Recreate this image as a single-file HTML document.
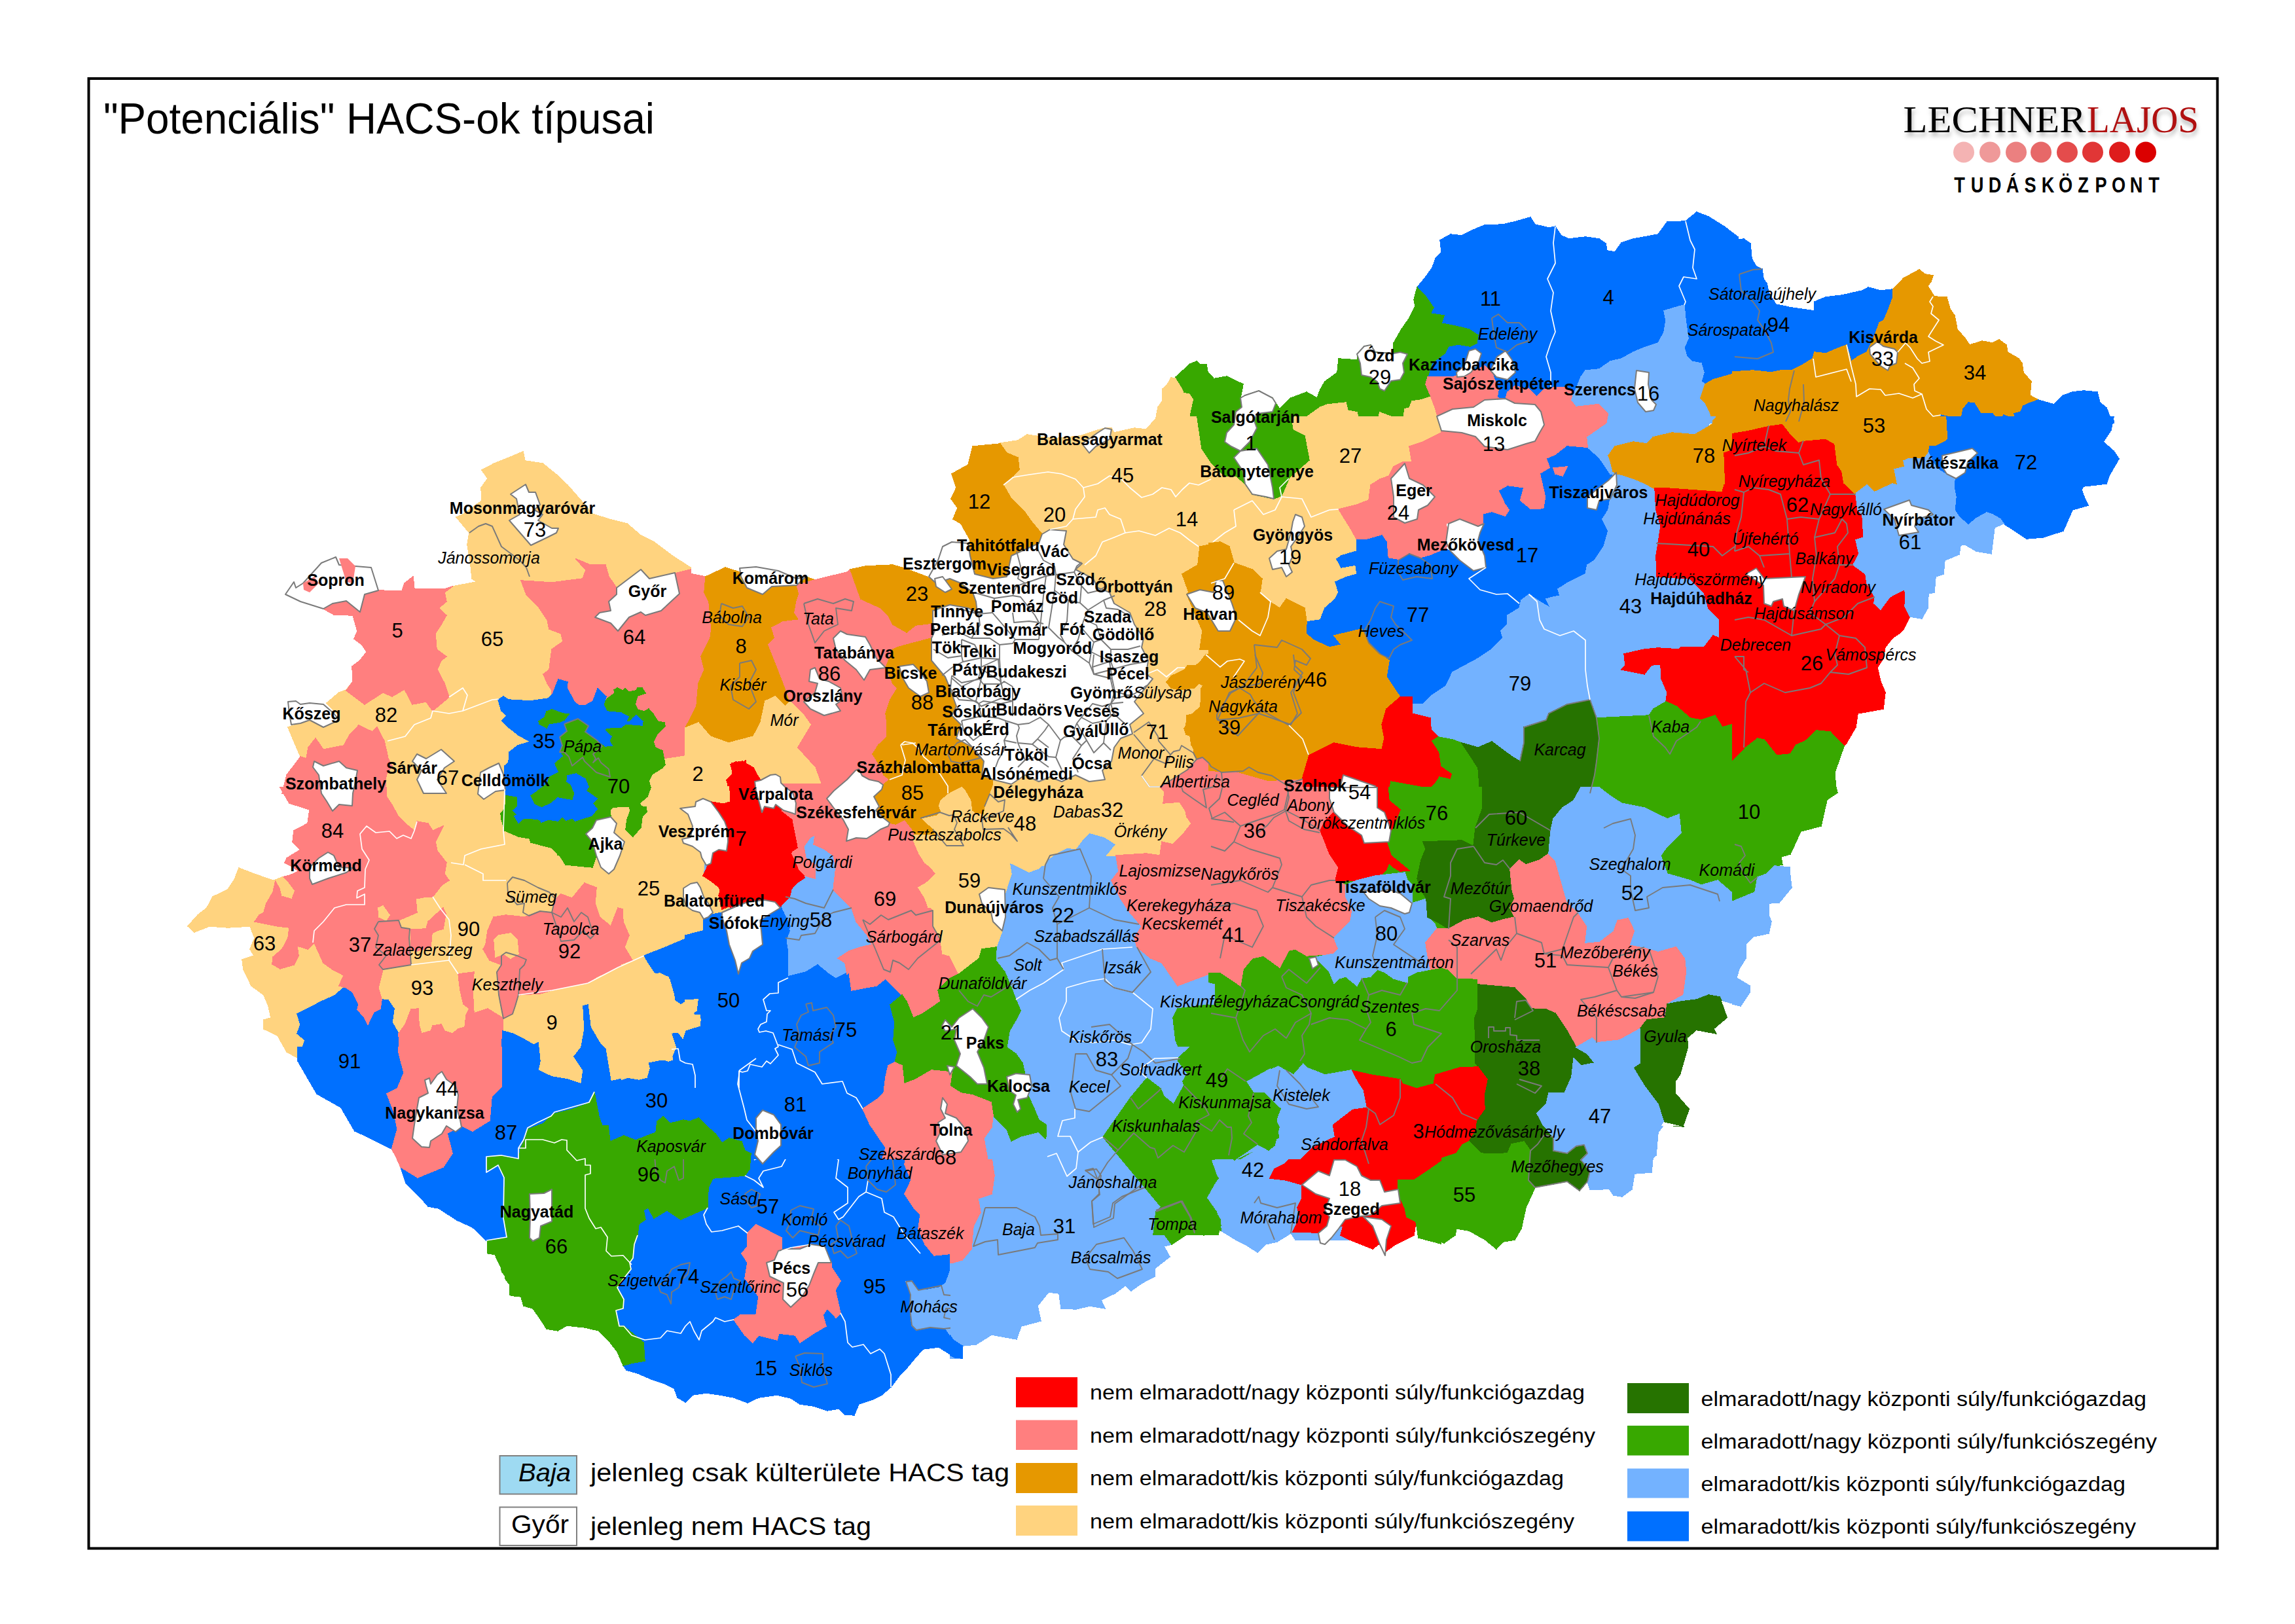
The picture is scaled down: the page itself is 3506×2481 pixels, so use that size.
<!DOCTYPE html>
<html><head><meta charset="utf-8"><title>HACS</title>
<style>
html,body{margin:0;padding:0;background:#fff;}
svg{display:block;font-family:"Liberation Sans",sans-serif;}
.w{fill:#fff;stroke:#7a7a7a;stroke-width:2;stroke-linejoin:round}
.g{fill:none;stroke:#7a7a7a;stroke-width:1.9;stroke-linejoin:round}
.wl{fill:none;stroke:#fff;stroke-width:1.7;stroke-linejoin:round}
.n{font-size:31px;fill:#000}
.b{font-size:25px;font-weight:bold;fill:#000}
.i{font-size:25px;font-style:italic;fill:#000}
.lg{font-size:31px;fill:#000}
.lg2{font-size:39px;fill:#000}
</style></head><body>
<svg width="3506" height="2481" viewBox="0 0 3506 2481">
<rect x="0" y="0" width="3506" height="2481" fill="#fff"/>
<defs><clipPath id="c0"><rect x="0" y="1771" width="1452" height="710"/></clipPath><clipPath id="c1"><rect x="0" y="1771" width="1452" height="710"/></clipPath><clipPath id="c2"><rect x="0" y="1771" width="1452" height="710"/></clipPath><clipPath id="c3"><rect x="1451" y="1771" width="751" height="710"/></clipPath><clipPath id="c4"><rect x="2202" y="1720" width="798" height="761"/></clipPath></defs>
<g stroke-width="1.5" stroke-linejoin="round" shape-rendering="crispEdges"><polygon fill="#ffd37f" stroke="#ffd37f" points="1764,649 1769,622 1776,612 1776,594 1783,588 1789,577 1796,578 1807,594 1818,601 1824,610 1820,627 1816,647 1831,654 1842,657 1842,660 1764,660"/>
<polygon fill="#38a800" stroke="#38a800" points="1796,576 1807,566 1818,556 1828,552 1833,557 1843,557 1845,568 1853,577 1853,660 1842,660 1842,657 1831,654 1816,647 1820,627 1824,610 1818,601 1809,599 1807,594"/>
<polygon fill="#0070ff" stroke="#0070ff" points="2165,439 2178,423 2188,409 2193,395 2202,385 2200,367 2216,358 2233,360 2251,351 2268,344 2296,343 2317,338 2338,332 2345,343 2366,348 2376,346 2385,360 2397,365 2422,362 2443,365 2453,372 2455,383 2467,385 2477,371 2495,365 2512,362 2533,358 2547,339 2575,338 2592,324 2610,331 2634,346 2655,362 2655,569 2617,580 2605,587 2599,583 2603,569 2599,555 2584,552 2577,545 2573,531 2579,517 2575,489 2573,466 2558,470 2542,475 2545,489 2542,508 2533,524 2512,531 2495,538 2477,548 2460,552 2443,564 2422,566 2415,576 2408,594 2404,601 2394,592 2373,592 2359,595 2348,606 2335,594 2314,590 2303,599 2300,609 2287,608 2289,595 2286,587 2279,569 2268,559 2258,564 2240,569 2219,576 2199,576 2181,576 2185,562 2188,554 2207,540 2213,529 2228,526 2246,529 2256,524 2258,512 2244,503 2223,498 2202,494 2206,482 2185,479 2190,470 2178,453"/>
<polygon fill="#38a800" stroke="#38a800" points="2165,439 2178,453 2190,470 2185,479 2206,482 2202,494 2223,498 2244,503 2258,512 2256,524 2246,529 2228,526 2213,529 2207,540 2188,554 2185,562 2181,576 2178,587 2186,606 2171,611 2157,613 2153,623 2146,625 2143,646 2132,639 2108,630 2104,644 2077,646 2073,630 2059,627 2056,615 2028,618 2012,608 2017,595 2024,583 2043,569 2045,548 2073,550 2075,541 2084,529 2094,527 2101,538 2129,540 2129,524 2141,503 2153,486 2162,468 2160,458"/>
<polygon fill="#38a800" stroke="#38a800" points="1847,580 1874,575 1899,587 1895,608 1902,604 1923,597 1944,608 1949,616 1955,625 1972,608 1996,599 2012,608 2028,618 2017,622 2003,632 1986,644 1972,649 1847,649"/>
<polygon fill="#ffd37f" stroke="#ffd37f" points="1972,649 1986,644 2003,632 2017,622 2028,618 2056,615 2059,627 2073,630 2077,646 2104,644 2108,630 2132,639 2143,646 2146,625 2153,623 2157,613 2171,611 2186,606 2193,625 2199,646 2199,649"/>
<polygon fill="#ff7f7f" stroke="#ff7f7f" points="2178,587 2181,576 2199,576 2219,576 2240,569 2258,564 2268,559 2279,569 2286,587 2289,595 2287,608 2300,609 2303,599 2314,590 2335,594 2348,606 2359,595 2373,592 2394,592 2404,601 2401,611 2408,620 2443,616 2458,632 2457,646 2199,646 2193,625 2186,606"/>
<polygon fill="#73b2ff" stroke="#73b2ff" points="2404,601 2408,594 2415,576 2422,566 2443,564 2460,552 2477,548 2495,538 2512,531 2533,524 2542,508 2545,489 2542,475 2558,470 2573,466 2575,489 2579,517 2573,531 2577,545 2584,552 2599,555 2603,569 2599,583 2605,587 2598,608 2605,615 2612,629 2617,646 2457,646 2458,632 2443,616 2408,620 2401,611"/>
<polygon fill="#e69800" stroke="#e69800" points="2605,587 2617,580 2655,569 2655,646 2617,646 2612,629 2605,615 2598,608"/>
<polygon fill="#0070ff" stroke="#0070ff" points="2647,367 2664,365 2674,372 2676,395 2683,407 2692,411 2694,426 2699,433 2702,447 2713,465 2737,470 2772,475 2772,461 2789,454 2814,451 2845,444 2854,439 2873,444 2891,442 2892,454 2884,475 2878,489 2871,493 2866,507 2859,524 2852,538 2838,545 2828,552 2821,527 2803,534 2789,540 2772,538 2769,548 2751,559 2737,566 2720,566 2706,569 2678,566 2647,568"/>
<polygon fill="#e69800" stroke="#e69800" points="2892,442 2908,425 2932,412 2941,419 2953,421 2950,430 2945,437 2955,453 2974,454 2979,472 2986,482 2990,503 3002,517 3009,527 3028,521 3044,524 3054,519 3065,527 3067,538 3084,548 3089,555 3091,569 3103,583 3101,604 3114,611 3100,616 3091,620 3087,629 3077,632 3079,641 3061,634 3053,643 3044,632 3026,632 3016,616 3007,615 2999,625 2997,636 2986,639 2965,634 2967,645 2647,645 2647,568 2678,566 2706,569 2720,566 2737,566 2751,559 2769,548 2772,538 2789,540 2803,534 2821,527 2828,552 2838,545 2852,538 2859,524 2866,507 2871,493 2878,489 2884,475 2892,454"/>
<polygon fill="#0070ff" stroke="#0070ff" points="2965,634 2986,639 2997,636 2999,625 3007,615 3016,616 3026,632 3044,632 3053,643 3061,634 3079,641 3077,632 3087,629 3091,620 3100,616 3114,611 3138,618 3152,604 3166,599 3183,597 3204,599 3208,615 3218,623 3223,636 3229,643 3229,646 2965,646"/>
<polygon fill="#ffd37f" stroke="#ffd37f" points="799,690 802,704 829,708 850,725 867,741 888,765 905,785 930,793 958,800 979,818 999,828 1027,849 1055,867 1055,1212 431,1212 435,1206 438,1184 454,1163 459,1156 450,1135 440,1111 459,1105 473,1100 494,1111 518,1100 515,1090 499,1074 518,1058 529,1054 539,1041 538,1018 550,1009 560,996 553,985 541,976 546,964 539,940 510,939 494,930 508,922 529,918 550,935 557,908 578,902 614,903 618,891 631,881 633,900 679,900 691,896 728,889 721,884 719,863 714,832 717,814 697,790 707,786 736,765 735,745 745,731 736,718 755,708 780,698"/>
<polygon fill="#ff7f7f" stroke="#ff7f7f" points="796,887 843,890 890,884 895,871 880,854 902,863 925,863 930,881 942,898 1055,870 1055,1152 1031,1156 982,1163 843,1093 843,1055 836,1044 830,1030 839,1023 843,992 860,980 857,968 839,961 836,947 822,926 804,908"/>
<polygon fill="#ff7f7f" stroke="#ff7f7f" points="494,930 508,922 529,918 550,935 557,908 578,902 614,903 618,891 631,881 633,900 679,900 691,896 679,905 682,919 670,929 682,940 674,954 665,968 667,992 682,1003 674,1009 668,1023 679,1044 686,1065 661,1086 651,1072 630,1076 618,1053 599,1064 585,1058 557,1076 529,1055 539,1041 538,1018 550,1009 560,996 553,985 541,976 546,964 539,940 510,939"/>
<polygon fill="#ff7f7f" stroke="#ff7f7f" points="459,1156 468,1159 471,1142 482,1128 494,1145 525,1139 534,1123 548,1108 569,1118 576,1111 587,1132 590,1145 593,1159 599,1170 590,1184 588,1212 431,1212 438,1184 454,1163"/>
<polygon fill="#ffd37f" stroke="#ffd37f" points="1528,677 1555,673 1569,664 1608,670 1650,666 1677,657 1688,654 1698,654 1702,661 1733,654 1751,656 1768,637 1855,637 1855,1212 1496,1212 1496,1163 1538,884 1573,797 1545,762 1533,741 1548,727 1557,717 1555,699 1538,692"/>
<polygon fill="#e69800" stroke="#e69800" points="1486,682 1528,678 1538,692 1555,699 1557,717 1548,727 1533,741 1545,762 1566,783 1576,797 1592,816 1587,830 1545,849 1538,881 1517,884 1489,877 1481,849 1482,825 1468,800 1456,793 1463,776 1453,762 1461,745 1454,724 1479,710"/>
<polygon fill="#ff7f7f" stroke="#ff7f7f" points="1047,875 1078,881 1088,954 1078,1023 1067,1104 1047,1111"/>
<polygon fill="#e69800" stroke="#e69800" points="1078,881 1108,867 1130,874 1141,898 1165,908 1179,896 1217,894 1231,881 1245,886 1221,907 1217,919 1214,936 1221,947 1196,950 1179,959 1184,975 1174,985 1188,1020 1200,1051 1207,1072 1200,1079 1184,1064 1169,1071 1162,1104 1151,1125 1113,1135 1085,1125 1067,1104 1047,1112 1064,1079 1067,1044 1076,1023 1071,1003 1085,975 1087,961 1083,919 1076,905"/>
<polygon fill="#ff7f7f" stroke="#ff7f7f" points="1217,894 1245,886 1294,874 1299,870 1304,884 1315,915 1346,929 1357,940 1364,954 1385,966 1399,955 1425,952 1428,964 1423,975 1395,982 1385,985 1371,989 1364,992 1353,1020 1364,1044 1371,1051 1360,1069 1353,1090 1357,1118 1339,1142 1334,1156 1343,1170 1336,1184 1350,1212 1259,1212 1245,1173 1217,1142 1238,1107 1228,1093 1207,1072 1200,1051 1188,1020 1174,985 1184,975 1179,959 1196,950 1221,947 1214,936 1217,919 1221,907"/>
<polygon fill="#e69800" stroke="#e69800" points="1299,870 1322,865 1364,863 1381,868 1416,881 1430,891 1451,884 1468,891 1486,905 1491,919 1493,936 1479,929 1451,924 1425,933 1425,952 1399,955 1385,966 1364,954 1357,940 1346,929 1315,915 1304,884"/>
<polygon fill="#e69800" stroke="#e69800" points="1371,989 1385,985 1423,975 1423,1009 1444,1034 1451,1051 1461,1079 1454,1093 1468,1107 1461,1128 1486,1142 1503,1163 1500,1184 1514,1191 1517,1212 1350,1212 1336,1184 1343,1170 1334,1156 1339,1142 1357,1118 1353,1090 1360,1069 1371,1051 1364,1044 1353,1020 1364,992"/>
<polygon fill="#ffd37f" stroke="#ffd37f" points="1047,1112 1067,1104 1085,1125 1113,1135 1151,1125 1162,1104 1169,1071 1184,1064 1200,1079 1207,1072 1228,1093 1238,1107 1217,1142 1245,1173 1259,1212 1047,1212"/>
<polygon fill="#ff0000" stroke="#ff0000" points="1118,1166 1134,1163 1151,1173 1162,1194 1158,1212 1113,1212 1111,1194 1120,1184"/>
<polygon fill="#e69800" stroke="#e69800" points="1842,1000 1833,1012 1826,1017 1814,1017 1810,1023 1789,1033 1782,1042 1789,1051 1802,1054 1824,1051 1831,1044 1838,1047 1835,1052 1834,1080 1821,1091 1813,1093 1812,1108 1809,1113 1812,1122 1818,1124 1820,1138 1824,1145 1823,1150 1828,1160 1837,1157 1847,1166 1850,1171 1866,1180 1866,1000"/>
<polygon fill="#ff7f7f" stroke="#ff7f7f" points="1828,1160 1837,1157 1847,1166 1850,1171 1866,1180 1866,1286 1812,1286 1814,1275 1821,1263 1816,1249 1810,1237 1802,1225 1777,1227 1779,1209 1772,1202 1795,1188 1814,1176"/>
<polygon fill="#e69800" stroke="#e69800" points="1833,835 1868,828 1886,859 1928,884 1924,908 1942,925 1938,950 1914,971 1889,957 1868,978 1851,992 1833,992 1837,964 1813,908 1816,905 1806,877 1830,863"/>
<polygon fill="#ffd37f" stroke="#ffd37f" points="1847,637 2199,637 2202,661 2174,675 2153,682 2157,706 2143,706 2129,713 2122,727 2108,732 2094,741 2091,764 2073,771 2045,778 2063,807 2073,825 2073,842 2059,846 2049,849 2042,854 2049,867 2071,863 2073,877 2056,882 2040,889 2045,905 2040,915 2024,929 2017,947 1996,950 1993,929 1965,915 1955,929 1939,919 1925,905 1928,884 1913,870 1885,860 1878,835 1864,828 1847,830"/>
<polygon fill="#38a800" stroke="#38a800" points="1829,637 1972,637 1975,657 1993,666 2000,703 1970,729 1958,757 1946,762 1913,755 1902,739 1888,727 1871,727 1850,706 1836,685"/>
<polygon fill="#ff7f7f" stroke="#ff7f7f" points="2153,682 2174,675 2202,661 2199,637 2458,637 2455,647 2425,668 2427,685 2394,682 2376,696 2364,701 2369,715 2354,724 2362,759 2359,778 2338,779 2321,765 2326,746 2303,743 2291,750 2300,769 2307,779 2300,790 2279,783 2267,786 2267,800 2258,804 2230,793 2209,800 2213,821 2209,839 2185,849 2171,853 2153,846 2139,856 2120,853 2118,828 2111,818 2087,825 2073,825 2063,807 2045,778 2073,771 2091,764 2094,741 2108,732 2122,727 2129,713 2143,706 2157,706"/>
<polygon fill="#0070ff" stroke="#0070ff" points="2073,825 2087,825 2111,818 2118,828 2120,853 2139,856 2153,846 2171,853 2185,849 2209,839 2216,842 2230,856 2251,872 2270,867 2268,849 2258,825 2267,800 2267,786 2279,783 2300,790 2307,779 2300,769 2291,750 2303,743 2326,746 2321,765 2338,779 2359,778 2362,759 2354,724 2369,715 2364,701 2376,696 2394,682 2427,685 2443,699 2460,704 2464,720 2470,724 2469,741 2460,762 2457,779 2448,793 2457,811 2450,835 2436,856 2425,863 2422,877 2394,891 2380,900 2383,910 2373,912 2362,915 2369,929 2352,919 2336,908 2324,917 2321,929 2303,940 2303,954 2293,964 2296,975 2279,992 2258,1006 2219,1027 2209,1048 2188,1062 2174,1076 2157,1076 2157,1065 2139,1065 2118,1034 2122,1009 2108,999 2091,982 2080,961 2038,971 2049,985 2031,989 2007,978 1995,968 1996,950 2017,947 2024,929 2040,915 2045,905 2040,889 2056,882 2073,877 2071,863 2049,867 2042,854 2049,849 2059,846 2073,842"/>
<polygon fill="#ff7f7f" stroke="#ff7f7f" points="2373,715 2394,713 2387,727 2376,724"/>
<polygon fill="#73b2ff" stroke="#73b2ff" points="2425,668 2455,647 2457,637 2620,637 2606,654 2589,664 2554,661 2525,668 2516,678 2495,675 2467,682 2457,696 2474,727 2460,724 2443,699 2427,685"/>
<polygon fill="#73b2ff" stroke="#73b2ff" points="2470,724 2477,725 2495,731 2512,738 2530,748 2533,755 2530,779 2537,804 2533,830 2530,849 2531,881 2582,884 2603,905 2610,929 2627,947 2627,975 2617,971 2603,989 2568,989 2565,992 2533,990 2512,992 2481,999 2483,1016 2477,1023 2512,1030 2523,1016 2537,1015 2538,1037 2547,1058 2545,1072 2526,1083 2519,1093 2439,1097 2429,1069 2394,1076 2366,1090 2362,1100 2328,1111 2328,1135 2322,1163 2310,1156 2279,1133 2258,1142 2233,1135 2219,1130 2197,1126 2186,1114 2185,1097 2157,1090 2157,1076 2174,1076 2188,1062 2209,1048 2219,1027 2258,1006 2279,992 2296,975 2293,964 2303,954 2303,940 2321,929 2324,917 2336,908 2352,919 2369,929 2362,915 2373,912 2383,910 2380,900 2394,891 2422,877 2425,863 2436,856 2450,835 2457,811 2448,793 2457,779 2460,762 2469,741"/>
<polygon fill="#e69800" stroke="#e69800" points="2457,696 2467,682 2495,675 2516,678 2525,668 2554,661 2589,664 2606,654 2617,647 2655,637 2655,685 2634,692 2636,741 2631,752 2547,748 2530,748 2512,738 2495,731 2477,725 2470,724 2464,720 2460,704"/>
<polygon fill="#ff0000" stroke="#ff0000" points="2528,746 2547,746 2631,752 2634,741 2655,738 2655,1104 2631,1111 2620,1093 2599,1100 2582,1097 2561,1079 2545,1072 2547,1058 2538,1037 2537,1015 2523,1016 2512,1030 2477,1023 2483,1016 2481,999 2512,992 2533,990 2565,992 2568,989 2603,989 2617,971 2627,975 2627,947 2610,929 2603,905 2582,884 2531,881 2530,849 2533,830 2537,804 2530,779"/>
<polygon fill="#e69800" stroke="#e69800" points="1847,830 1864,828 1878,835 1885,860 1913,870 1928,884 1925,905 1939,919 1955,929 1965,915 1993,929 1996,950 1995,968 2007,978 2031,989 2049,985 2038,971 2080,961 2091,982 2108,999 2122,1009 2118,1034 2139,1065 2118,1083 2111,1107 2115,1128 2111,1145 2073,1142 2038,1135 2000,1154 1989,1191 1937,1194 1885,1179 1847,1184"/>
<polygon fill="#ff0000" stroke="#ff0000" points="2139,1065 2157,1065 2157,1090 2185,1097 2186,1114 2197,1126 2188,1132 2199,1149 2202,1170 2219,1182 2216,1191 2199,1187 2192,1198 2185,1212 1989,1212 1989,1191 2000,1154 2038,1135 2073,1142 2111,1145 2115,1128 2111,1107 2118,1083"/>
<polygon fill="#ff7f7f" stroke="#ff7f7f" points="1847,1184 1885,1179 1937,1194 1989,1191 1989,1212 1847,1212"/>
<polygon fill="#38a800" stroke="#38a800" points="2188,1132 2197,1126 2219,1130 2233,1135 2258,1173 2261,1212 2122,1212 2125,1194 2185,1205 2192,1198 2199,1187 2216,1191 2219,1182 2202,1170 2199,1149"/>
<polygon fill="#267300" stroke="#267300" points="2233,1135 2258,1142 2279,1133 2310,1156 2322,1163 2328,1135 2328,1111 2362,1100 2366,1090 2394,1076 2429,1069 2439,1097 2443,1128 2439,1163 2436,1184 2429,1212 2261,1212 2258,1173"/>
<polygon fill="#38a800" stroke="#38a800" points="2439,1097 2519,1093 2526,1083 2545,1072 2561,1079 2582,1097 2599,1100 2620,1093 2631,1111 2655,1104 2655,1212 2429,1212 2436,1184 2439,1163 2443,1128"/>
<polygon fill="#ff0000" stroke="#ff0000" points="2634,692 2655,685 2655,752 2631,752 2636,741"/>
<polygon fill="#ff0000" stroke="#ff0000" points="2647,661 2671,657 2702,650 2723,647 2734,661 2748,675 2755,673 2789,670 2803,678 2807,710 2814,720 2817,738 2835,755 2838,779 2845,786 2847,821 2835,825 2840,846 2831,863 2850,877 2852,891 2864,912 2863,922 2873,931 2887,912 2910,900 2911,915 2910,926 2917,943 2908,961 2901,968 2891,975 2880,989 2877,1006 2868,1020 2873,1041 2880,1058 2877,1083 2838,1090 2835,1111 2821,1135 2817,1140 2796,1118 2775,1116 2758,1132 2744,1138 2735,1152 2714,1154 2695,1130 2685,1128 2667,1142 2647,1163"/>
<polygon fill="#e69800" stroke="#e69800" points="2647,637 2974,637 2976,671 2971,675 2957,682 2946,682 2948,692 2939,701 2915,701 2908,704 2910,713 2894,717 2899,741 2891,739 2863,752 2852,741 2836,753 2835,755 2817,738 2814,720 2807,710 2803,678 2789,670 2755,673 2748,675 2734,661 2723,647 2702,650 2671,657 2647,661"/>
<polygon fill="#0070ff" stroke="#0070ff" points="2974,637 3229,637 3225,657 3213,675 3229,689 3237,701 3222,727 3218,739 3183,743 3180,748 3185,762 3190,772 3166,779 3152,811 3121,821 3096,823 3061,800 3056,793 3044,786 3035,783 3019,792 3007,802 2993,790 2986,779 2988,759 2985,745 2986,731 2978,727 2965,720 2957,713 2946,692 2948,682 2957,682 2971,675 2976,671"/>
<polygon fill="#73b2ff" stroke="#73b2ff" points="2836,753 2852,741 2863,752 2891,739 2899,741 2894,717 2910,713 2908,704 2915,701 2939,701 2946,692 2957,713 2965,720 2978,727 2986,731 2985,745 2988,759 2986,779 2993,790 3007,802 3019,792 3035,783 3044,786 3056,793 3061,800 3047,806 3042,846 3019,842 3002,832 2995,833 2993,847 2971,856 2969,877 2957,881 2955,905 2946,907 2945,929 2936,945 2918,942 2910,926 2911,915 2910,900 2887,912 2873,931 2863,922 2864,912 2852,891 2850,877 2831,863 2840,846 2835,825 2847,821 2845,786 2838,779 2835,755"/>
<polygon fill="#38a800" stroke="#38a800" points="2647,1163 2667,1142 2685,1128 2695,1130 2714,1154 2735,1152 2744,1138 2758,1132 2775,1116 2796,1118 2817,1140 2803,1180 2805,1212 2647,1212"/>
<polygon fill="#ffd37f" stroke="#ffd37f" points="428,1203 442,1227 473,1237 470,1258 449,1269 447,1286 459,1298 438,1311 435,1318 445,1323 456,1331 443,1337 424,1344 417,1345 388,1335 365,1326 358,1344 348,1359 325,1370 316,1387 302,1398 287,1415 297,1424 320,1415 348,1417 382,1415 389,1433 382,1450 388,1460 370,1466 372,1481 384,1506 403,1520 410,1537 414,1555 403,1558 403,1572 424,1582 438,1607 456,1617 456,1630 463,1656 480,1670 508,1684 525,1701 546,1722 564,1729 585,1739 599,1757 602,1778 1055,1778 1055,1203"/>
<polygon fill="#0070ff" stroke="#0070ff" points="454,1549 491,1530 511,1521 525,1509 539,1516 548,1534 546,1542 557,1555 562,1565 571,1546 581,1541 583,1527 593,1528 602,1541 599,1562 609,1579 611,1617 616,1642 606,1663 593,1670 599,1694 606,1711 607,1743 599,1757 585,1739 564,1729 546,1722 525,1701 508,1684 480,1670 463,1656 456,1630 456,1617 466,1589 454,1579 459,1565"/>
<polygon fill="#ff7f7f" stroke="#ff7f7f" points="428,1203 590,1203 590,1216 599,1230 609,1248 619,1258 633,1269 637,1255 654,1258 661,1269 677,1262 665,1286 668,1300 682,1318 679,1335 686,1345 675,1352 661,1370 651,1370 635,1373 637,1394 609,1406 613,1417 626,1419 625,1433 628,1474 585,1481 578,1509 583,1527 581,1541 571,1546 562,1565 557,1555 546,1542 548,1534 539,1516 529,1509 518,1506 525,1490 508,1481 494,1471 480,1440 470,1450 454,1445 456,1460 449,1474 428,1480 416,1473 417,1462 431,1450 440,1433 442,1417 424,1415 389,1408 396,1398 403,1394 407,1380 417,1363 421,1345 431,1340 443,1337 456,1331 445,1323 435,1318 438,1311 459,1298 447,1286 449,1269 470,1258 473,1237 442,1227"/>
<polygon fill="#ffd37f" stroke="#ffd37f" points="421,1344 431,1340 440,1349 449,1361 445,1372 431,1368 428,1356"/>
<polygon fill="#ffd37f" stroke="#ffd37f" points="578,1387 585,1384 595,1398 590,1406 579,1401"/>
<polygon fill="#ff7f7f" stroke="#ff7f7f" points="628,1420 651,1419 654,1408 667,1396 677,1387 681,1396 677,1419 667,1422 660,1426 658,1447 637,1453 628,1450"/>
<polygon fill="#ff7f7f" stroke="#ff7f7f" points="754,1401 773,1398 801,1401 825,1392 843,1394 850,1373 857,1366 874,1372 893,1349 911,1356 909,1380 916,1401 933,1415 944,1387 951,1389 952,1408 961,1429 954,1447 966,1467 944,1478 912,1492 898,1502 874,1506 843,1513 825,1518 792,1520 787,1537 783,1549 769,1556 762,1520 759,1485 766,1474 748,1467 738,1450 742,1443 745,1422"/>
<polygon fill="#ffd37f" stroke="#ffd37f" points="755,1436 762,1429 780,1426 790,1436 792,1457 780,1464 769,1457 757,1462"/>
<polygon fill="#ff7f7f" stroke="#ff7f7f" points="700,1488 724,1485 722,1513 724,1548 745,1541 768,1555 768,1575 759,1569 752,1579 736,1569 721,1565 710,1569 712,1551 717,1541 708,1534 703,1513"/>
<polygon fill="#ff7f7f" stroke="#ff7f7f" points="628,1542 639,1541 640,1565 644,1579 658,1575 661,1567 674,1565 679,1575 691,1579 700,1572 710,1569 721,1565 736,1569 752,1579 759,1569 768,1575 766,1607 764,1649 752,1677 738,1708 724,1729 703,1722 693,1729 682,1732 686,1750 691,1778 602,1778 599,1757 607,1743 606,1711 599,1694 593,1670 606,1663 616,1642 611,1617 609,1579 619,1565"/>
<polygon fill="#0070ff" stroke="#0070ff" points="768,1575 783,1579 801,1588 815,1596 822,1593 825,1621 822,1635 843,1645 867,1649 888,1656 891,1635 877,1614 888,1600 893,1572 891,1537 898,1535 902,1569 916,1593 925,1603 933,1652 965,1645 989,1642 992,1624 1027,1617 1034,1600 1027,1579 1055,1575 1055,1778 691,1778 686,1750 682,1732 693,1729 703,1722 724,1729 738,1708 752,1677 764,1649 766,1607"/>
<polygon fill="#0070ff" stroke="#0070ff" points="984,1460 1017,1447 1055,1431 1055,1579 1027,1579 1024,1579 1031,1555 1034,1541 1031,1520 1024,1495 999,1485"/>
<polygon fill="#38a800" stroke="#38a800" points="922,1076 928,1067 939,1059 938,1054 943,1051 951,1055 955,1052 961,1057 972,1055 974,1051 981,1051 986,1059 974,1063 970,1076 974,1084 984,1087 991,1083 998,1091 1005,1102 1015,1104 1016,1109 1003,1123 998,1133 1001,1142 1012,1147 1016,1168 1012,1173 996,1183 991,1193 994,1203 989,1217 977,1227 980,1232 987,1233 988,1240 981,1248 979,1264 967,1278 956,1267 958,1252 963,1238 961,1232 937,1233 932,1237 933,1248 911,1252 913,1267 897,1278 896,1292 900,1306 852,1306 850,1297 838,1294 811,1287 809,1281 792,1278 771,1269 766,1252 765,1243 772,1234 773,1214 845,1177 862,1100"/>
<polygon fill="#0070ff" stroke="#0070ff" points="761,1069 769,1064 777,1069 810,1071 838,1067 844,1061 853,1038 867,1042 866,1051 878,1073 885,1078 894,1078 906,1071 913,1052 926,1064 922,1076 927,1087 949,1089 960,1095 957,1102 962,1103 967,1097 972,1093 982,1102 981,1108 956,1106 949,1111 927,1112 923,1115 934,1125 931,1132 935,1139 925,1140 912,1131 894,1118 899,1109 883,1098 862,1106 866,1117 855,1126 859,1139 855,1149 859,1155 846,1166 852,1179 838,1186 835,1196 818,1209 809,1215 816,1229 827,1234 841,1228 852,1219 875,1223 878,1212 872,1198 866,1194 867,1185 880,1182 894,1190 899,1202 895,1208 912,1220 905,1227 912,1236 904,1246 879,1254 874,1250 865,1253 859,1248 852,1254 838,1252 827,1256 824,1252 808,1250 798,1251 792,1257 786,1247 790,1245 784,1238 791,1232 791,1217 773,1214 770,1203 771,1170 777,1165 778,1149 791,1139 810,1133 792,1123 778,1112 767,1101 774,1093 766,1086"/>
<polygon fill="#38a800" stroke="#38a800" points="823,1102 832,1096 835,1087 843,1084 860,1090 869,1091 862,1100 855,1103 838,1106 835,1112 824,1106"/>
<polygon fill="#38a800" stroke="#38a800" points="808,1276 825,1286 843,1295 855,1307 864,1321 905,1325 911,1307 905,1276"/>
<polygon fill="#73b2ff" stroke="#73b2ff" points="1047,1203 1855,1203 1855,1778 1047,1778"/>
<polygon fill="#ffd37f" stroke="#ffd37f" points="1047,1203 1116,1203 1085,1225 1074,1338 1085,1345 1099,1356 1102,1373 1116,1386 1099,1394 1078,1405 1074,1422 1050,1429 1047,1429"/>
<polygon fill="#ff0000" stroke="#ff0000" points="1085,1225 1116,1203 1155,1203 1158,1227 1172,1237 1182,1230 1189,1241 1210,1244 1214,1276 1217,1290 1210,1304 1221,1328 1230,1338 1214,1352 1200,1370 1193,1384 1182,1379 1172,1384 1137,1380 1116,1386 1102,1373 1099,1356 1085,1345 1074,1338 1081,1325 1090,1314 1102,1300 1116,1281 1116,1265 1102,1241"/>
<polygon fill="#0070ff" stroke="#0070ff" points="1047,1429 1074,1422 1085,1415 1108,1408 1113,1422 1120,1447 1128,1466 1134,1453 1165,1440 1162,1420 1165,1403 1193,1386 1200,1401 1207,1415 1200,1433 1203,1450 1203,1492 1231,1485 1249,1474 1266,1488 1277,1495 1291,1488 1297,1485 1301,1513 1322,1509 1339,1506 1353,1495 1378,1520 1360,1535 1367,1562 1365,1589 1371,1607 1367,1623 1357,1628 1353,1645 1350,1670 1339,1680 1318,1694 1329,1718 1346,1743 1353,1753 1346,1778 1047,1778 1047,1574 1069,1567 1069,1555 1059,1549 1064,1541 1064,1527 1047,1528"/>
<polygon fill="#ffd37f" stroke="#ffd37f" points="1047,1528 1064,1527 1064,1541 1059,1549 1069,1555 1069,1567 1047,1574"/>
<polygon fill="#ff7f7f" stroke="#ff7f7f" points="1214,1203 1263,1203 1266,1220 1287,1241 1294,1258 1301,1283 1353,1258 1357,1251 1381,1255 1399,1279 1413,1311 1430,1331 1419,1345 1402,1359 1416,1380 1426,1391 1425,1415 1437,1436 1440,1457 1451,1460 1465,1488 1451,1495 1433,1513 1437,1530 1409,1549 1395,1555 1385,1530 1378,1520 1353,1495 1339,1506 1322,1509 1301,1513 1297,1485 1294,1488 1291,1471 1280,1464 1297,1453 1315,1447 1332,1443 1325,1429 1308,1408 1301,1387 1291,1377 1273,1359 1277,1325 1273,1307 1259,1297 1243,1290 1245,1276 1238,1279 1228,1293 1231,1311 1245,1321 1245,1342 1230,1338 1221,1328 1210,1304 1217,1290 1214,1276 1210,1244 1214,1237"/>
<polygon fill="#e69800" stroke="#e69800" points="1339,1203 1447,1203 1440,1220 1432,1230 1433,1241 1413,1248 1402,1269 1381,1255 1357,1251 1346,1223"/>
<polygon fill="#e69800" stroke="#e69800" points="1482,1203 1510,1203 1503,1234 1491,1241 1482,1220"/>
<polygon fill="#ffd37f" stroke="#ffd37f" points="1447,1203 1482,1203 1482,1220 1491,1241 1503,1234 1510,1203 1806,1203 1796,1216 1810,1234 1813,1248 1820,1258 1806,1276 1792,1290 1775,1286 1772,1307 1751,1304 1705,1307 1691,1307 1705,1290 1688,1279 1664,1272 1655,1281 1643,1297 1622,1293 1604,1307 1597,1321 1573,1328 1542,1318 1545,1335 1535,1366 1536,1401 1531,1422 1522,1447 1500,1450 1496,1464 1465,1488 1451,1460 1440,1457 1437,1436 1425,1415 1426,1391 1416,1380 1402,1359 1419,1345 1430,1331 1413,1311 1399,1279 1402,1269 1413,1248 1433,1241 1432,1230 1440,1220"/>
<polygon fill="#ff7f7f" stroke="#ff7f7f" points="1806,1203 1855,1203 1855,1485 1799,1506 1775,1471 1758,1464 1737,1447 1733,1433 1744,1415 1726,1394 1712,1373 1698,1345 1709,1331 1705,1307 1751,1304 1772,1307 1775,1286 1792,1290 1806,1276 1820,1258 1813,1248 1810,1234 1796,1216"/>
<polygon fill="#38a800" stroke="#38a800" points="1496,1464 1500,1450 1522,1447 1521,1467 1535,1485 1545,1509 1552,1527 1559,1544 1552,1558 1542,1575 1538,1600 1552,1610 1562,1624 1566,1642 1552,1645 1569,1670 1580,1694 1587,1711 1604,1722 1597,1739 1587,1729 1559,1736 1545,1743 1538,1725 1517,1704 1514,1684 1486,1673 1468,1670 1451,1659 1454,1638 1423,1635 1399,1649 1381,1656 1378,1628 1367,1623 1371,1607 1365,1589 1367,1562 1360,1535 1378,1520 1385,1530 1395,1555 1409,1549 1437,1530 1433,1513 1451,1495 1465,1488"/>
<polygon fill="#ff7f7f" stroke="#ff7f7f" points="1353,1645 1357,1628 1367,1623 1378,1628 1381,1656 1399,1649 1423,1635 1454,1638 1451,1659 1468,1670 1486,1673 1514,1684 1517,1704 1515,1722 1503,1739 1510,1778 1346,1778 1353,1753 1346,1743 1329,1718 1318,1694 1339,1680 1350,1670"/>
<polygon fill="#38a800" stroke="#38a800" points="1855,1534 1799,1541 1792,1555 1796,1589 1810,1624 1827,1645 1855,1656"/>
<polygon fill="#38a800" stroke="#38a800" points="1751,1649 1768,1663 1789,1670 1813,1691 1855,1677 1855,1778 1712,1778 1684,1739 1730,1691 1726,1677"/>
<polygon fill="#ffd37f" stroke="#ffd37f" points="1072,1202 1116,1202 1116,1225 1105,1228 1086,1225 1072,1223"/>
<polygon fill="#ff0000" stroke="#ff0000" points="1116,1168 1124,1164 1135,1166 1139,1162 1140,1171 1150,1174 1162,1192 1153,1194 1155,1208 1161,1230 1164,1241 1168,1232 1182,1235 1185,1229 1197,1238 1210,1242 1210,1255 1213,1269 1218,1295 1208,1302 1211,1317 1218,1328 1229,1341 1210,1354 1206,1371 1192,1384 1184,1378 1168,1375 1142,1375 1121,1382 1103,1389 1098,1368 1102,1357 1089,1347 1075,1336 1081,1323 1086,1319 1089,1303 1098,1298 1110,1300 1112,1286 1112,1269 1107,1255 1098,1241 1086,1225 1105,1228 1116,1225 1115,1202 1110,1192 1119,1183 1118,1174"/>
<polygon fill="#0070ff" stroke="#0070ff" points="1075,1404 1089,1397 1103,1394 1103,1401 1110,1422 1116,1436 1075,1436"/>
<polygon fill="#0070ff" stroke="#0070ff" points="1161,1406 1177,1396 1192,1387 1197,1394 1203,1408 1206,1422 1201,1436 1164,1436 1163,1422"/>
<polygon fill="#ff7f7f" stroke="#ff7f7f" points="1247,1100 1355,1100 1355,1110 1355,1126 1342,1138 1333,1152 1342,1166 1350,1184 1359,1191 1352,1198 1300,1198 1247,1152"/>
<polygon fill="#ff7f7f" stroke="#ff7f7f" points="1195,1198 1352,1198 1338,1238 1350,1250 1359,1257 1368,1259 1382,1252 1394,1267 1397,1274 1396,1285 1404,1304 1413,1318 1422,1325 1430,1335 1415,1349 1403,1356 1413,1372 1418,1386 1335,1386 1300,1292 1230,1266 1195,1239"/>
<polygon fill="#ffd37f" stroke="#ffd37f" points="1427,1274 1425,1267 1413,1257 1406,1250 1430,1245 1436,1239 1433,1231 1436,1222 1448,1212 1469,1201 1474,1205 1484,1222 1486,1238 1490,1241 1502,1243 1504,1232 1509,1219 1516,1199 1518,1178 1526,1173 1613,1168 1630,1187 1630,1295 1613,1304 1599,1314 1586,1327 1572,1332 1540,1316 1544,1330 1537,1341 1535,1356 1532,1361 1509,1358 1497,1367 1498,1386 1418,1386 1413,1372 1403,1356 1415,1349 1430,1335 1422,1325 1413,1318 1404,1304 1396,1285 1397,1274"/>
<polygon fill="#e69800" stroke="#e69800" points="1355,1100 1455,1100 1462,1110 1474,1130 1484,1140 1497,1158 1504,1161 1502,1173 1518,1178 1516,1199 1509,1219 1504,1232 1502,1243 1490,1241 1486,1238 1484,1222 1474,1205 1469,1201 1448,1212 1436,1222 1433,1231 1436,1239 1430,1245 1406,1250 1413,1257 1425,1267 1427,1274 1397,1274 1394,1267 1382,1252 1368,1259 1359,1257 1350,1250 1338,1238 1343,1232 1335,1217 1347,1206 1349,1199 1359,1191 1350,1184 1342,1166 1333,1152 1342,1138 1355,1126 1355,1110"/>
<polygon fill="#ff7f7f" stroke="#ff7f7f" points="1772,1202 1779,1209 1777,1227 1802,1225 1810,1237 1816,1249 1866,1249 1866,1180 1814,1176 1795,1188"/>
<polygon fill="#38a800" stroke="#38a800" points="1847,1203 2655,1203 2655,1778 1847,1778"/>
<polygon fill="#ff7f7f" stroke="#ff7f7f" points="1847,1203 2035,1203 2031,1220 2038,1241 2024,1255 2017,1269 2024,1286 2031,1304 2045,1325 2040,1345 2056,1352 2056,1370 2066,1391 2063,1408 2049,1422 2038,1433 2045,1450 2038,1457 1996,1460 1979,1450 1969,1452 1955,1478 1930,1460 1913,1464 1899,1481 1895,1506 1864,1485 1847,1485"/>
<polygon fill="#ff0000" stroke="#ff0000" points="2017,1269 2024,1255 2038,1241 2059,1262 2080,1276 2084,1288 2118,1286 2125,1307 2153,1330 2139,1331 2129,1325 2122,1318 2118,1328 2108,1338 2073,1345 2045,1345 2040,1345 2045,1325 2031,1304 2024,1286"/>
<polygon fill="#ff0000" stroke="#ff0000" points="2104,1203 2120,1203 2122,1223 2139,1237 2129,1262 2125,1269 2115,1241 2104,1234"/>
<polygon fill="#73b2ff" stroke="#73b2ff" points="2056,1352 2073,1345 2101,1338 2146,1333 2150,1345 2157,1352 2157,1380 2179,1373 2181,1401 2192,1412 2195,1419 2178,1440 2181,1460 2185,1481 2164,1485 2150,1492 2150,1501 2129,1495 2115,1485 2104,1481 2094,1492 2080,1494 2073,1506 2056,1492 2045,1495 2038,1502 2031,1485 2021,1474 2014,1467 2003,1471 2000,1464 2038,1457 2045,1450 2038,1433 2049,1422 2063,1408 2066,1391 2056,1370"/>
<polygon fill="#267300" stroke="#267300" points="2265,1203 2415,1203 2404,1223 2387,1234 2373,1251 2369,1269 2366,1304 2352,1314 2331,1321 2321,1314 2307,1328 2310,1359 2314,1373 2307,1387 2314,1401 2296,1405 2279,1410 2258,1401 2237,1406 2213,1419 2195,1408 2181,1401 2179,1373 2171,1359 2165,1342 2171,1314 2178,1297 2174,1286 2233,1284 2251,1293 2254,1265 2265,1234"/>
<polygon fill="#ff7f7f" stroke="#ff7f7f" points="2307,1328 2321,1314 2331,1321 2352,1314 2366,1304 2376,1314 2383,1338 2390,1363 2394,1377 2411,1394 2425,1415 2422,1440 2443,1438 2464,1422 2470,1405 2488,1401 2498,1422 2491,1443 2512,1447 2533,1453 2561,1445 2575,1464 2577,1485 2572,1520 2547,1534 2544,1555 2516,1558 2505,1572 2474,1589 2439,1593 2432,1586 2408,1600 2394,1575 2376,1548 2362,1542 2338,1541 2331,1527 2314,1509 2258,1504 2258,1495 2226,1494 2213,1481 2202,1478 2185,1481 2181,1460 2178,1440 2195,1419 2213,1419 2237,1406 2258,1401 2279,1410 2296,1405 2314,1401 2307,1387 2314,1373 2310,1359"/>
<polygon fill="#73b2ff" stroke="#73b2ff" points="2415,1203 2443,1203 2460,1216 2477,1227 2512,1234 2547,1251 2565,1244 2568,1272 2544,1297 2537,1307 2547,1335 2582,1345 2599,1352 2624,1345 2645,1363 2655,1370 2655,1537 2631,1530 2627,1523 2610,1520 2592,1527 2568,1530 2547,1534 2572,1520 2577,1485 2575,1464 2561,1445 2533,1453 2512,1447 2491,1443 2498,1422 2488,1401 2470,1405 2464,1422 2443,1438 2422,1440 2425,1415 2411,1394 2394,1377 2390,1363 2383,1338 2376,1314 2366,1304 2369,1269 2373,1251 2387,1234 2404,1223"/>
<polygon fill="#267300" stroke="#267300" points="2258,1504 2314,1509 2331,1527 2338,1541 2362,1542 2376,1548 2394,1575 2408,1600 2432,1586 2439,1593 2425,1610 2436,1624 2415,1628 2404,1617 2401,1645 2390,1670 2366,1670 2362,1687 2348,1701 2359,1722 2373,1743 2376,1760 2422,1757 2422,1778 2258,1778 2247,1750 2256,1711 2268,1694 2267,1673 2272,1649 2254,1624 2253,1555 2258,1541"/>
<polygon fill="#267300" stroke="#267300" points="2544,1555 2547,1534 2568,1530 2592,1527 2610,1520 2627,1523 2631,1530 2640,1555 2620,1572 2624,1581 2592,1575 2579,1586 2580,1600 2575,1617 2568,1642 2561,1652 2561,1670 2582,1694 2572,1722 2542,1715 2533,1687 2512,1659 2495,1631 2505,1624 2505,1572 2516,1558"/>
<polygon fill="#73b2ff" stroke="#73b2ff" points="2408,1600 2432,1586 2439,1593 2474,1589 2505,1572 2505,1624 2495,1631 2512,1659 2533,1687 2542,1715 2533,1729 2530,1757 2523,1778 2422,1778 2422,1757 2376,1760 2373,1743 2359,1722 2348,1701 2362,1687 2366,1670 2390,1670 2401,1645 2404,1617 2415,1628 2436,1624 2425,1610"/>
<polygon fill="#ffffff" stroke="#ffffff" points="2655,1537 2631,1530 2640,1555 2620,1572 2624,1581 2592,1575 2579,1586 2580,1600 2575,1617 2568,1642 2561,1652 2561,1670 2582,1694 2572,1722 2542,1715 2533,1729 2530,1757 2523,1778 2655,1778"/>
<polygon fill="#ff0000" stroke="#ff0000" points="2064,1635 2094,1642 2139,1649 2143,1656 2164,1663 2190,1656 2193,1642 2230,1631 2258,1630 2272,1649 2267,1673 2268,1694 2256,1711 2247,1750 2230,1764 2219,1778 1979,1778 2003,1753 2038,1736 2035,1718 2066,1694 2087,1691 2082,1666 2073,1652"/>
<polygon fill="#73b2ff" stroke="#73b2ff" points="1902,1652 1955,1628 1986,1621 1996,1631 2024,1642 2064,1635 2073,1652 2082,1666 2087,1691 2066,1694 2035,1718 2038,1736 2003,1753 1979,1778 1885,1778 1920,1757 1955,1739 1951,1708 1955,1691 1927,1673"/>
<polygon fill="#73b2ff" stroke="#73b2ff" points="1847,1502 1855,1504 1855,1534 1847,1534"/>
<polygon fill="#ffffff" stroke="#ffffff" points="2647,1203 2929,1203 2929,1555 2647,1555"/>
<polygon fill="#38a800" stroke="#38a800" points="2647,1203 2805,1203 2807,1211 2791,1222 2782,1262 2751,1270 2735,1305 2721,1309 2723,1321 2711,1323 2699,1335 2685,1340 2681,1363 2664,1370 2647,1377"/>
<polygon fill="#73b2ff" stroke="#73b2ff" points="2647,1377 2664,1370 2681,1363 2685,1340 2699,1335 2711,1323 2734,1325 2735,1340 2737,1356 2718,1379 2702,1380 2702,1398 2706,1408 2702,1426 2678,1431 2667,1443 2667,1464 2657,1480 2653,1494 2673,1506 2673,1516 2659,1537 2647,1534"/>
<polygon fill="#0070ff" stroke="#0070ff" points="601,1765 650,1835 671,1845 695,1863 723,1877 742,1894 744,1915 755,1918 762,1936 772,1950 770,1964 779,1979 796,1981 800,1995 814,1999 824,2013 835,2030 852,2033 866,2025 894,2028 915,2033 929,2047 943,2065 952,2086 957,2093 974,2098 995,2107 1016,2114 1030,2121 1035,2135 1047,2142 1058,2131 1079,2128 1100,2131 1121,2135 1142,2143 1159,2135 1187,2131 1208,2136 1222,2145 1243,2148 1264,2155 1281,2152 1291,2161 1305,2162 1312,2145 1333,2138 1347,2131 1361,2119 1373,2103 1386,2089 1396,2077 1410,2061 1434,2058 1450,2068 1455,2068 1455,1765" clip-path="url(#c0)"/>
<polygon fill="#38a800" stroke="#38a800" points="807,1725 831,1716 845,1702 873,1695 901,1685 908,1669 915,1706 920,1720 929,1720 932,1744 953,1735 971,1742 1002,1730 1004,1713 1013,1706 1023,1716 1033,1714 1044,1711 1054,1713 1067,1708 1079,1720 1093,1732 1103,1746 1114,1739 1133,1744 1138,1758 1147,1762 1145,1786 1138,1796 1114,1798 1089,1800 1082,1814 1081,1845 1040,1863 1019,1849 999,1861 990,1845 983,1849 986,1863 976,1870 974,1887 969,1901 967,1922 962,1929 964,1939 953,1953 943,1967 953,1985 952,1999 941,2002 946,2026 953,2026 983,2051 985,2079 967,2082 952,2086 943,2065 929,2047 915,2033 894,2028 866,2025 852,2033 835,2030 824,2013 814,1999 800,1995 796,1981 779,1979 770,1964 772,1950 762,1936 755,1918 744,1915 742,1894 774,1891 769,1852 765,1803 762,1789 742,1786 744,1767 765,1763 793,1772 795,1755 802,1741"/>
<polygon fill="#ff7f7f" stroke="#ff7f7f" points="1142,1884 1155,1871 1173,1880 1194,1891 1194,1911 1239,1901 1260,1904 1270,1929 1270,1936 1284,1957 1276,1971 1284,2006 1277,2013 1264,1999 1257,2009 1262,2026 1243,2037 1222,2051 1215,2040 1190,2037 1187,2047 1159,2040 1150,2051 1138,2040 1121,2016 1131,2009 1155,2009 1159,1981 1152,1971 1138,1953 1142,1929 1133,1915 1142,1904" clip-path="url(#c1)"/>
<polygon fill="#ff7f7f" stroke="#ff7f7f" points="647,1751 664,1737 683,1727 690,1765 678,1786 647,1789" clip-path="url(#c1)"/>
<polygon fill="#ff7f7f" stroke="#ff7f7f" points="1358,1647 1455,1647 1455,1915 1427,1918 1413,1901 1403,1877 1406,1856 1396,1845 1382,1824 1392,1803 1382,1779 1386,1755 1365,1748 1347,1737 1333,1716 1319,1702 1333,1681 1354,1671" clip-path="url(#c1)"/>
<polygon fill="#73b2ff" stroke="#73b2ff" points="1384,1958 1393,1957 1403,1971 1414,1971 1435,1967 1445,1960 1456,1929 1505,1929 1505,2033 1470,2056 1456,2047 1445,2030 1421,2028 1400,2032 1393,2025 1390,1999 1391,1978" clip-path="url(#c2)"/>
<polygon fill="#73b2ff" stroke="#73b2ff" points="1449,1769 2097,1769 2097,1894 1979,1894 1972,1884 1951,1897 1933,1901 1921,1913 1902,1901 1888,1894 1865,1880 1853,1877 1839,1887 1825,1884 1811,1887 1790,1901 1778,1904 1787,1920 1764,1938 1764,1950 1745,1960 1728,1972 1719,1964 1703,1976 1682,1986 1688,1999 1665,1995 1644,2000 1621,1999 1618,1976 1602,1974 1585,1995 1590,2018 1560,2026 1553,2046 1515,2039 1491,2054 1470,2056 1470,2075 1449,2075" clip-path="url(#c3)"/>
<polygon fill="#ff7f7f" stroke="#ff7f7f" points="1449,1769 1515,1769 1519,1796 1515,1824 1494,1831 1498,1852 1487,1873 1484,1908 1470,1925 1456,1929 1449,1929" clip-path="url(#c3)"/>
<polygon fill="#0070ff" stroke="#0070ff" points="1445,2030 1456,2047 1470,2056 1470,2075 1459,2074 1445,2067" clip-path="url(#c3)"/>
<polygon fill="#38a800" stroke="#38a800" points="1686,1737 1707,1758 1724,1782 1749,1814 1775,1843 1766,1849 1769,1873 1790,1901 1811,1887 1825,1884 1839,1887 1853,1877 1865,1880 1864,1863 1853,1845 1843,1830 1860,1800 1850,1772 1881,1765 1888,1770 1905,1758 1923,1749 1944,1755 1954,1734 1951,1713 1954,1692 1944,1678 1916,1667 1902,1650 1749,1650 1728,1674 1745,1695 1714,1720" clip-path="url(#c3)"/>
<polygon fill="#ff0000" stroke="#ff0000" points="1940,1800 1947,1786 1961,1779 1972,1769 1993,1758 2014,1744 2038,1730 2034,1713 2055,1699 2083,1692 2088,1671 2076,1650 2205,1650 2205,1772 2181,1789 2160,1803 2139,1803 2136,1824 2146,1845 2149,1859 2163,1866 2160,1887 2132,1901 2118,1911 2115,1894 2097,1908 2062,1894 2048,1887 2052,1873 2031,1877 2020,1884 1993,1882 1975,1882 1986,1859 1982,1845 1989,1831 1989,1810 1965,1803" clip-path="url(#c3)"/>
<polygon fill="#38a800" stroke="#38a800" points="2136,1803 2160,1803 2181,1789 2205,1772 2205,1901 2167,1891 2163,1866 2149,1859 2146,1845 2136,1824" clip-path="url(#c3)"/>
<polygon fill="#ffffff" stroke="#ffffff" points="2150,1650 2950,1650 2950,2216 2150,2216" clip-path="url(#c4)"/>
<polygon fill="#ff0000" stroke="#ff0000" points="2147,1647 2269,1647 2267,1695 2258,1709 2255,1727 2244,1744 2234,1749 2225,1762 2195,1772 2171,1793 2147,1803" clip-path="url(#c4)"/>
<polygon fill="#ff0000" stroke="#ff0000" points="2147,1866 2164,1863 2164,1884 2147,1891" clip-path="url(#c4)"/>
<polygon fill="#267300" stroke="#267300" points="2258,1709 2267,1695 2269,1647 2401,1647 2391,1671 2370,1666 2363,1688 2349,1699 2359,1720 2373,1737 2373,1758 2394,1762 2408,1751 2420,1749 2425,1762 2415,1772 2429,1789 2425,1805 2413,1819 2394,1805 2356,1812 2345,1814 2335,1803 2338,1758 2328,1744 2309,1748 2303,1762 2279,1763 2262,1762 2244,1744 2255,1727" clip-path="url(#c4)"/>
<polygon fill="#73b2ff" stroke="#73b2ff" points="2401,1647 2506,1647 2513,1667 2526,1671 2530,1685 2537,1695 2542,1718 2533,1730 2530,1765 2525,1769 2523,1791 2497,1793 2493,1817 2478,1828 2465,1826 2458,1816 2446,1817 2429,1817 2425,1805 2429,1789 2415,1772 2425,1762 2420,1749 2408,1751 2394,1762 2373,1758 2373,1737 2359,1720 2349,1699 2363,1688 2370,1666 2391,1671" clip-path="url(#c4)"/>
<polygon fill="#267300" stroke="#267300" points="2506,1647 2561,1647 2565,1678 2577,1681 2584,1694 2572,1721 2558,1720 2542,1718 2537,1695 2530,1685 2526,1671 2513,1667" clip-path="url(#c4)"/>
<polygon fill="#38a800" stroke="#38a800" points="2147,1803 2171,1793 2195,1772 2225,1762 2234,1749 2244,1744 2262,1762 2279,1763 2303,1762 2309,1748 2328,1744 2338,1758 2335,1803 2345,1814 2331,1845 2324,1877 2314,1894 2296,1897 2286,1908 2269,1894 2244,1880 2225,1877 2223,1887 2206,1899 2185,1891 2164,1891 2164,1863 2147,1866" clip-path="url(#c4)"/>
<polygon fill="#73b2ff" stroke="#73b2ff" points="1600,1600 1940,1600 1940,1746 1886,1772 1877,1765 1847,1773 1851,1783 1861,1800 1841,1827 1858,1851 1865,1872 1861,1883 1600,1883"/>
<polygon fill="#38a800" stroke="#38a800" points="1685,1737 1727,1677 1752,1647 1773,1663 1778,1675 1793,1687 1809,1658 1807,1652 1814,1640 1800,1621 1800,1616 1818,1600 1992,1600 1996,1617 1976,1640 1950,1626 1903,1652 1915,1670 1931,1670 1956,1694 1949,1712 1954,1722 1947,1750 1938,1757 1921,1748 1886,1772 1877,1765 1847,1773 1851,1783 1861,1800 1841,1827 1858,1851 1865,1872 1861,1886 1762,1886 1766,1851 1774,1844"/>
<polygon fill="#ffffff" stroke="#ffffff" points="447,1652 455,1621 484,1671 521,1692 542,1728 560,1736 596,1754 612,1783 620,1807 643,1830 654,1843 670,1846 698,1864 722,1875 743,1895 743,1916 755,1918 764,1937 766,1948 777,1963 777,1979 792,1987 798,2008 813,2018 816,2029 447,2029"/>
<polygon fill="#0070ff" stroke="#0070ff" points="455,1621 484,1671 521,1692 542,1728 560,1736 596,1754 599,1754 607,1725 602,1699 591,1671 607,1663 617,1639 609,1608 609,1600 455,1600"/>
<polygon fill="#0070ff" stroke="#0070ff" points="612,1783 620,1807 643,1830 654,1843 670,1846 698,1864 722,1875 743,1895 774,1890 769,1861 770,1799 761,1780 743,1791 743,1767 766,1765 792,1770 792,1754 800,1741 806,1723 764,1710 748,1712 722,1728 706,1720 683,1731 691,1762 677,1783 638,1799"/>
<polygon fill="#ff7f7f" stroke="#ff7f7f" points="591,1671 607,1663 617,1639 609,1608 609,1600 766,1600 766,1660 751,1676 748,1712 722,1728 706,1720 683,1731 691,1762 677,1783 638,1799 612,1783 599,1754 607,1725 602,1699"/>
<polygon fill="#ffd37f" stroke="#ffd37f" points="950,1474 983,1462 1000,1488 1008,1487 1021,1493 1026,1508 1028,1527 1040,1535 1051,1528 1066,1527 1064,1544 1058,1547 1058,1551 1069,1551 1070,1558 1069,1566 1047,1574 1043,1586 1036,1577 1025,1578 1026,1603 1027,1619 1021,1621 1014,1619 989,1621 992,1632 988,1646 976,1649 959,1646 950,1649"/></g>
<g><polygon class="w" points="2244,536 2254,533 2263,540 2258,555 2247,569 2237,575 2226,576 2225,569 2237,559"/>
<polygon class="w" points="2287,545 2300,536 2310,550 2315,569 2303,580 2286,576 2277,566"/>
<polygon class="w" points="2073,541 2084,529 2094,527 2101,538 2129,540 2139,538 2150,541 2143,555 2145,569 2139,580 2125,582 2115,597 2108,594 2104,583 2094,576 2080,573 2078,555"/>
<polygon class="w" points="1895,608 1902,604 1923,597 1944,608 1949,616 1944,629 1920,632 1916,643 1920,654 1909,675 1895,689 1881,682 1871,675 1874,661 1885,649 1888,629 1897,622"/>
<polygon class="w" points="2195,636 2219,625 2251,622 2268,611 2300,609 2314,616 2345,618 2354,629 2359,649 2352,661 2345,674 2331,678 2303,687 2268,682 2254,667 2233,661 2202,658"/>
<polygon class="w" points="2500,566 2519,569 2518,587 2523,611 2530,618 2526,627 2514,629 2502,615 2497,594"/>
<polygon class="w" points="2856,531 2868,522 2877,529 2894,533 2899,538 2897,555 2887,559 2884,566 2873,559 2863,548 2857,541"/>
<polygon class="w" points="436,908 449,889 452,898 463,891 491,860 513,851 518,863 543,865 567,867 578,902 557,908 550,935 529,918 508,922 494,930 459,919"/>
<polygon class="w" points="440,1072 452,1071 459,1076 473,1074 494,1076 510,1090 518,1100 494,1111 473,1100 459,1105 445,1107 442,1090"/>
<polygon class="w" points="480,1163 494,1170 518,1163 529,1173 546,1177 543,1194 539,1212 538,1231 518,1229 508,1239 499,1224 491,1212 487,1184 478,1172"/>
<polygon class="w" points="780,755 803,740 808,752 818,752 825,771 816,779 829,786 822,795 843,807 853,807 850,814 836,821 811,833 778,795 794,786 789,762"/>
<polygon class="w" points="942,898 979,870 992,884 1031,875 1038,907 1010,933 986,940 979,935 961,943 944,964 933,952 909,943 916,936 933,933 930,919 942,908"/>
<polygon class="w" points="630,1163 637,1152 651,1159 674,1145 694,1163 679,1173 668,1191 682,1212 647,1212 637,1191 644,1177"/>
<polygon class="w" points="1130,868 1155,866 1189,872 1217,884 1231,881 1217,894 1179,896 1165,908 1141,898 1132,881"/>
<polygon class="w" points="1273,975 1284,964 1294,969 1322,973 1329,985 1339,1006 1353,1020 1329,1023 1320,1039 1308,1023 1291,1009 1277,992"/>
<polygon class="w" points="1238,1023 1245,1020 1252,1037 1266,1041 1284,1051 1287,1069 1277,1076 1284,1086 1259,1093 1238,1083 1228,1072 1245,1058 1249,1044 1236,1041"/>
<polygon class="w" points="1374,1018 1395,1015 1406,1027 1416,1041 1419,1058 1406,1064 1388,1051 1378,1034"/>
<polygon class="w" points="1440,835 1454,828 1479,830 1482,849 1489,877 1517,884 1538,881 1545,849 1587,830 1592,816 1604,809 1629,811 1625,832 1639,854 1653,861 1643,870 1670,884 1677,898 1695,905 1702,922 1726,936 1733,954 1747,975 1744,989 1754,1009 1751,1030 1761,1037 1744,1058 1733,1072 1747,1090 1726,1107 1730,1121 1712,1128 1702,1142 1698,1163 1684,1177 1688,1191 1664,1194 1643,1184 1622,1194 1604,1187 1587,1194 1566,1184 1545,1198 1517,1191 1500,1184 1503,1163 1486,1142 1461,1128 1468,1107 1454,1093 1461,1079 1451,1051 1444,1034 1423,1009 1423,975 1428,964 1425,952 1425,933 1451,924 1479,929 1493,936 1491,919 1486,905 1468,891 1451,884 1430,891 1419,881 1433,856"/>
<polygon class="w" points="1428,884 1440,881 1454,900 1444,905 1430,896"/>
<polygon class="w" points="1653,678 1677,661 1688,654 1698,656 1695,671 1674,682 1664,692"/>
<polygon class="w" points="1813,908 1833,901 1854,905 1858,887 1868,887 1882,922 1889,943 1879,964 1861,964 1844,936 1826,929"/>
<polygon class="w" points="1885,699 1895,689 1920,685 1937,710 1944,745 1946,762 1934,759 1913,755 1902,739 1899,720"/>
<polygon class="w" points="2125,731 2146,708 2153,731 2174,741 2192,759 2181,772 2167,779 2165,793 2146,799 2129,790 2129,759"/>
<polygon class="w" points="2213,800 2230,793 2258,804 2267,800 2261,814 2258,825 2268,849 2270,867 2251,872 2230,856 2216,842 2209,828"/>
<polygon class="w" points="2425,759 2443,745 2457,734 2469,722 2470,741 2460,762 2443,765 2439,779 2425,776"/>
<polygon class="w" points="2052,1184 2101,1201 2104,1212 2045,1212"/>
<polygon class="w" points="1979,786 1989,790 1993,804 1982,821 1972,835 1975,849 1969,863 1974,874 1965,881 1958,867 1944,870 1939,853 1951,842 1965,839 1972,814 1975,797 1979,786"/>
<polygon class="w" points="2967,696 3013,685 3021,692 3006,706 3002,722 2988,731 2974,724 2967,713"/>
<polygon class="w" points="2878,778 2917,764 2920,772 2946,779 2953,786 2929,793 2925,804 2931,813 2901,818 2894,793"/>
<polygon class="w" points="2667,877 2683,868 2695,884 2737,882 2758,881 2748,908 2741,933 2725,926 2723,915 2709,919 2706,926 2695,922 2694,894"/>
<polygon class="w" points="649,1650 656,1647 658,1656 668,1642 675,1637 682,1649 696,1659 700,1673 698,1694 703,1711 705,1722 696,1729 682,1720 675,1732 658,1743 656,1753 644,1752 630,1739 633,1718 637,1694 640,1677 654,1670 651,1659"/>
<polygon class="w" points="473,1325 487,1311 501,1302 510,1307 518,1325 539,1326 529,1333 501,1342 477,1351 473,1342"/>
<polygon class="w" points="911,1253 933,1248 942,1258 938,1272 954,1286 947,1307 938,1328 930,1335 918,1325 911,1307 905,1286 895,1274 905,1265"/>
<polygon class="w" points="730,1213 734,1180 747,1173 762,1166 769,1183 772,1207 757,1209 739,1221"/>
<polygon class="w" points="1155,1708 1165,1696 1182,1703 1193,1718 1193,1750 1182,1760 1165,1778 1153,1764 1158,1743 1155,1729"/>
<polygon class="w" points="1496,1366 1510,1356 1535,1359 1536,1401 1531,1422 1517,1408 1514,1394 1500,1380"/>
<polygon class="w" points="1465,1555 1486,1541 1500,1555 1510,1569 1503,1589 1493,1607 1503,1631 1508,1656 1493,1656 1482,1645 1461,1628 1467,1610 1458,1589 1461,1572 1444,1575 1439,1567 1444,1558 1454,1569"/>
<polygon class="w" points="1447,1628 1458,1630 1451,1642"/>
<polygon class="w" points="1538,1645 1552,1640 1573,1642 1576,1659 1569,1677 1555,1680 1559,1694 1554,1699 1548,1687 1552,1673 1542,1666"/>
<polygon class="w" points="1440,1677 1447,1687 1444,1701 1461,1708 1475,1725 1479,1743 1468,1760 1440,1764 1430,1743 1437,1729 1433,1715 1444,1708 1437,1694"/>
<polygon class="w" points="1039,1235 1062,1232 1063,1225 1074,1220 1086,1225 1098,1241 1107,1255 1112,1269 1112,1286 1110,1300 1098,1298 1089,1303 1086,1319 1079,1322 1072,1310 1070,1302 1058,1293 1044,1288 1042,1282 1055,1279 1058,1262 1051,1244"/>
<polygon class="w" points="1153,1194 1162,1192 1177,1184 1185,1183 1192,1187 1193,1196 1199,1202 1211,1211 1216,1227 1215,1244 1210,1242 1197,1238 1185,1229 1182,1235 1168,1232 1164,1241 1161,1230 1155,1208"/>
<polygon class="w" points="1044,1357 1055,1350 1065,1348 1070,1356 1075,1370 1082,1380 1089,1394 1082,1401 1075,1404 1069,1394 1058,1391 1048,1384 1044,1370"/>
<polygon class="w" points="1103,1394 1124,1385 1142,1378 1168,1375 1184,1378 1192,1387 1177,1396 1161,1406 1163,1422 1165,1443 1150,1453 1145,1464 1133,1471 1128,1488 1123,1467 1114,1443 1110,1422 1103,1401"/>
<polygon class="w" points="1263,1220 1274,1208 1294,1191 1307,1177 1312,1175 1317,1185 1328,1191 1342,1194 1349,1199 1347,1206 1335,1217 1343,1232 1338,1238 1350,1250 1359,1257 1357,1262 1345,1267 1335,1274 1324,1281 1308,1280 1293,1285 1296,1267 1288,1252 1275,1236"/>
<polygon class="w" points="2031,1203 2104,1203 2104,1234 2115,1241 2125,1269 2122,1286 2084,1288 2080,1276 2059,1262 2038,1241 2031,1220"/>
<polygon class="w" points="2080,1359 2101,1363 2122,1359 2139,1365 2157,1380 2153,1394 2146,1396 2125,1387 2108,1384 2091,1373"/>
<polygon class="w" points="2000,1464 2010,1462 2014,1474 2005,1480"/>
<polygon class="w" points="809,1824 831,1823 843,1817 843,1866 826,1873 824,1891 814,1896 809,1891 810,1859" clip-path="url(#c1)"/>
<polygon class="w" points="1189,1911 1201,1908 1222,1908 1239,1901 1260,1904 1270,1929 1250,1929 1243,1946 1236,1964 1225,1981 1208,1997 1196,1985 1197,1960 1176,1950 1171,1929 1183,1925" clip-path="url(#c1)"/>
<polygon class="w" points="1989,1810 2014,1789 2031,1796 2038,1772 2055,1772 2073,1782 2080,1796 2094,1803 2108,1803 2115,1821 2136,1817 2139,1838 2111,1842 2094,1856 2073,1859 2055,1863 2045,1877 2034,1891 2024,1901 2017,1899 2014,1884 2027,1873 2031,1859 2024,1849 2031,1831 2010,1824" clip-path="url(#c3)"/>
<polygon class="w" points="2083,1859 2097,1873 2108,1901 2116,1918 2118,1894 2125,1873 2111,1863" clip-path="url(#c3)"/></g>
<g><polygon fill="#ff7f7f" points="518,853 531,853 543,865 539,891 529,889"/>
<polygon fill="#ff7f7f" points="463,891 480,881 487,891 473,905 464,901"/></g>
<g><polyline class="wl" points="2376,346 2373,371 2376,402 2364,426 2373,447 2369,475 2376,507 2369,524 2362,545 2369,569 2369,592"/>
<polyline class="wl" points="2575,338 2582,367 2589,381 2586,409 2592,426 2572,423 2565,437 2575,461 2573,466"/>
<polyline class="g" points="2279,486 2289,480 2303,493 2321,493 2331,503 2335,521 2317,527 2303,538 2286,531 2282,510 2279,486"/>
<polyline class="g" points="2741,566 2734,594 2732,611 2735,629 2728,644"/>
<polyline class="g" points="2755,587 2756,615 2748,644"/>
<polyline class="g" points="2657,419 2678,412 2692,411"/>
<polyline class="g" points="2657,419 2660,444 2678,461 2688,475 2685,489 2695,503 2706,524 2709,538 2685,548 2650,545"/>
<polyline class="wl" points="2821,527 2828,559 2835,587 2836,606 2856,594 2873,595 2880,604 2901,601 2922,608 2936,602 2943,625 2953,636 2965,634"/>
<polyline class="wl" points="2770,548 2774,576 2821,564 2828,583"/>
<polyline class="wl" points="2899,538 2911,524 2918,531 2929,548 2936,555 2948,552 2946,538 2969,527 2957,521 2946,514 2953,503 2962,489 2950,479 2953,468 2948,461 2953,453"/>
<polyline class="wl" points="2910,555 2922,562 2932,578 2924,587 2925,597 2936,602"/>
<polyline class="g" points="717,814 731,804 742,800 752,804 766,835 794,856 804,867 809,881"/>
<polyline class="g" points="1102,922 1120,929 1134,926 1144,943 1134,957 1113,954 1099,940 1102,922"/>
<polyline class="g" points="1130,1013 1148,1009 1155,1023 1144,1044 1155,1072 1144,1083 1120,1069 1116,1048 1130,1034 1130,1013"/>
<polyline class="g" points="1228,922 1249,915 1273,922 1291,915 1304,919 1301,933 1277,929 1280,954 1259,964 1245,982 1235,954 1228,922"/>
<polyline class="g" points="1553,842 1559,865 1555,884 1566,891 1598,880 1611,878"/>
<polyline class="g" points="1585,839 1594,856 1611,865 1613,878 1611,902 1605,940 1602,959 1617,974 1626,981"/>
<polyline class="g" points="1598,880 1594,910 1587,977"/>
<polyline class="g" points="1547,910 1559,912 1581,940 1587,951 1594,953"/>
<polyline class="g" points="1519,914 1547,910 1553,895 1566,891"/>
<polyline class="g" points="1519,914 1516,936 1529,951 1545,970 1551,977 1587,977"/>
<polyline class="g" points="1547,936 1549,951 1572,949 1587,951"/>
<polyline class="g" points="1491,906 1519,914"/>
<polyline class="g" points="1461,929 1495,938 1516,936"/>
<polyline class="g" points="1495,938 1497,955 1484,975 1512,975 1527,985 1547,983 1551,977"/>
<polyline class="g" points="1439,970 1465,966 1484,975"/>
<polyline class="g" points="1469,977 1489,985 1499,1005 1527,1007 1527,985"/>
<polyline class="g" points="1426,992 1448,1005 1469,1002 1469,977"/>
<polyline class="g" points="1469,1002 1471,1011 1499,1005"/>
<polyline class="g" points="1499,1005 1499,1022 1529,1041 1532,1056"/>
<polyline class="g" points="1527,1007 1529,1041"/>
<polyline class="g" points="1454,1032 1469,1043 1499,1037 1499,1022"/>
<polyline class="g" points="1439,1032 1454,1020 1471,1011"/>
<polyline class="g" points="1454,1032 1452,1052 1465,1069 1491,1071 1499,1037"/>
<polyline class="g" points="1491,1071 1499,1079 1529,1067 1547,1071 1547,1094"/>
<polyline class="g" points="1611,902 1632,917 1650,921 1662,932 1656,946 1652,959 1647,977 1637,994"/>
<polyline class="g" points="1632,917 1630,949 1620,970 1626,981 1637,994 1664,1013 1671,1030 1694,1024 1697,1039"/>
<polyline class="g" points="1650,921 1652,895 1662,906 1679,902 1690,895"/>
<polyline class="g" points="1662,932 1686,917 1703,910"/>
<polyline class="g" points="1656,946 1675,955 1682,977 1671,981 1652,959"/>
<polyline class="g" points="1682,977 1697,992 1723,992 1742,987"/>
<polyline class="g" points="1671,981 1667,996 1664,1013"/>
<polyline class="g" points="1667,996 1697,1011 1701,1022 1694,1024"/>
<polyline class="g" points="1697,992 1697,1011"/>
<polyline class="g" points="1701,1022 1727,1015 1750,1011"/>
<polyline class="g" points="1697,1039 1703,1067 1694,1079 1697,1094"/>
<polyline class="g" points="1703,1067 1733,1060 1752,1047"/>
<polyline class="g" points="1613,878 1641,874 1645,865 1652,859"/>
<polyline class="g" points="1641,874 1652,895"/>
<polyline class="g" points="1686,917 1690,929 1708,931 1723,940"/>
<polyline class="g" points="1454,1036 1469,1049 1495,1036 1502,1045 1529,1045 1534,1041 1547,1049"/>
<polyline class="g" points="1495,1036 1499,1019 1525,1007"/>
<polyline class="g" points="1529,1045 1527,1030 1525,1007"/>
<polyline class="g" points="1469,1049 1472,1062 1495,1075 1502,1071 1529,1075 1547,1071 1547,1049"/>
<polyline class="g" points="1495,1075 1499,1094 1469,1101"/>
<polyline class="g" points="1499,1094 1525,1097 1536,1101 1540,1120"/>
<polyline class="g" points="1469,1101 1472,1116 1487,1131 1502,1120 1517,1105"/>
<polyline class="g" points="1536,1101 1555,1107 1572,1105 1589,1096 1602,1107 1596,1116 1585,1129 1577,1137 1555,1135 1553,1124 1557,1112 1555,1107"/>
<polyline class="g" points="1602,1107 1620,1131 1613,1157 1602,1156 1577,1137"/>
<polyline class="g" points="1585,1129 1602,1142"/>
<polyline class="g" points="1540,1120 1534,1131 1536,1142 1525,1161 1521,1172"/>
<polyline class="g" points="1534,1131 1553,1135"/>
<polyline class="g" points="1555,1135 1566,1161 1555,1172"/>
<polyline class="g" points="1566,1161 1581,1157 1602,1172"/>
<polyline class="g" points="1613,1157 1622,1176"/>
<polyline class="g" points="1620,1131 1626,1126 1637,1124 1652,1139 1639,1159 1647,1180"/>
<polyline class="g" points="1652,1139 1660,1131 1671,1150 1686,1135 1697,1146"/>
<polyline class="g" points="1660,1131 1645,1105 1652,1096 1669,1105 1690,1101 1686,1135"/>
<polyline class="g" points="1637,1124 1645,1105"/>
<polyline class="g" points="1690,1101 1701,1090 1697,1075 1684,1079 1669,1075 1652,1096"/>
<polyline class="g" points="1701,1090 1720,1107"/>
<polyline class="g" points="1697,1075 1716,1073"/>
<polyline class="g" points="1697,1075 1703,1056 1699,1037 1695,1011 1697,1000"/>
<polyline class="g" points="1703,1056 1735,1066"/>
<polyline class="g" points="1671,1000 1669,1019 1694,1011"/>
<polyline class="g" points="1669,1019 1671,1030 1699,1037"/>
<polyline class="g" points="2136,856 2153,846 2171,853 2185,863 2188,884 2164,881 2143,886 2136,874 2136,856"/>
<polyline class="g" points="2101,929 2108,919 2129,926 2125,943 2132,954 2150,971 2157,978 2139,985 2129,992 2122,1006 2108,999 2091,982 2084,964 2094,947 2101,929"/>
<polyline class="g" points="1916,985 1951,989 1958,978 1989,992 2002,1006 1996,1016 1979,1009 1977,1023 1989,1034 1972,1058 1982,1090 1972,1107 1923,1090 1892,1097 1860,1100 1878,1058 1899,1048 1920,1020 1916,985"/>
<polyline class="g" points="2328,1111 2362,1100 2366,1090 2394,1076 2429,1069 2439,1097 2443,1128 2439,1163 2436,1184 2429,1212"/>
<polyline class="g" points="2322,1163 2328,1135 2328,1111"/>
<polyline class="g" points="2519,1093 2526,1125 2544,1142 2551,1152 2561,1132 2592,1111 2598,1102"/>
<polyline class="g" points="2530,830 2617,835 2631,849 2650,835"/>
<polyline class="g" points="2650,696 2671,692 2695,682 2702,650"/>
<polyline class="g" points="2695,682 2713,689 2748,692 2755,673"/>
<polyline class="g" points="2748,692 2755,710 2779,703 2782,731 2796,755 2835,755"/>
<polyline class="g" points="2650,748 2664,752 2678,745 2702,748 2720,755 2730,793 2751,790 2779,793 2796,755"/>
<polyline class="g" points="2664,752 2660,790 2653,814 2650,842"/>
<polyline class="g" points="2650,842 2671,835 2688,849 2734,846 2730,793"/>
<polyline class="g" points="2688,849 2695,867"/>
<polyline class="g" points="2734,846 2737,882"/>
<polyline class="g" points="2779,793 2772,821 2775,849 2769,884 2772,919 2765,936 2789,954 2782,961 2737,971 2741,933"/>
<polyline class="g" points="2772,821 2803,814 2814,793 2821,800 2823,814 2807,835 2810,863 2831,863"/>
<polyline class="g" points="2810,863 2803,884 2772,919"/>
<polyline class="g" points="2789,954 2810,971 2835,975 2849,989 2852,1020 2824,1030 2796,1027 2782,1044 2765,1051 2727,1058 2695,1044 2674,1058 2667,1023 2650,1003"/>
<polyline class="g" points="2810,971 2803,999 2807,1016 2796,1027"/>
<polyline class="g" points="2650,947 2671,943 2695,947 2737,971"/>
<polyline class="g" points="2674,1058 2667,1072 2664,1142"/>
<polyline class="g" points="2789,954 2817,943 2838,922 2864,912"/>
<polyline class="g" points="2650,1003 2664,1003 2664,1023 2671,1027"/>
<polyline class="g" points="578,1408 609,1406 613,1417 626,1419 625,1433 628,1474 585,1481 579,1474 590,1460 574,1447 578,1429 572,1419 578,1408"/>
<polyline class="g" points="775,1349 783,1340 801,1345 822,1356 839,1363 848,1373 843,1394 825,1392 808,1399 799,1394 801,1380 790,1382 776,1366 775,1349"/>
<polyline class="g" points="843,1394 857,1401 867,1387 877,1408 888,1394 898,1401 907,1429 902,1434 891,1422 877,1436 857,1438 850,1415 843,1394"/>
<polyline class="g" points="766,1460 773,1455 790,1460 804,1466 801,1474 794,1481 792,1520 787,1537 783,1549 769,1556 762,1520 759,1485 766,1474 766,1460"/>
<polyline class="wl" points="637,1255 633,1269 628,1281 616,1276 606,1281 595,1270 574,1272 560,1262 550,1274 553,1297 564,1314 558,1328 557,1356 546,1361 545,1372 557,1366 557,1382 529,1382 511,1387 494,1408 480,1422 478,1440"/>
<polyline class="wl" points="771,1206 769,1269 771,1290 735,1297 710,1307 708,1321 689,1318"/>
<polyline class="wl" points="710,1321 738,1335 738,1345 773,1345"/>
<polyline class="wl" points="661,1370 672,1387 686,1405 689,1429 686,1467 700,1488"/>
<polyline class="wl" points="628,1474 686,1467"/>
<polyline class="wl" points="792,1520 843,1513 898,1502 944,1478 984,1460"/>
<polyline class="g" points="862,1106 883,1098 899,1109 894,1118 912,1131 920,1140 906,1152 910,1159 906,1165 914,1158 918,1165 930,1175 932,1187 923,1184 911,1180 893,1163 890,1157 874,1170 869,1156 862,1149 855,1149 859,1139 855,1126 866,1117 862,1106"/>
<polyline class="wl" points="1155,1617 1130,1635 1127,1656 1137,1694 1141,1711 1155,1729"/>
<polyline class="wl" points="1189,1596 1210,1603 1217,1624 1245,1638 1256,1656 1287,1652 1294,1670 1308,1677 1318,1694"/>
<polyline class="wl" points="1552,1527 1573,1513 1594,1502 1625,1481 1622,1471 1684,1450 1730,1447"/>
<polyline class="wl" points="1629,1509 1664,1499 1688,1495 1702,1509 1730,1516 1761,1541 1758,1572 1744,1593 1726,1596 1702,1589 1670,1593 1643,1589 1622,1575 1618,1555 1629,1530 1629,1509"/>
<polyline class="g" points="1231,1534 1240,1532 1242,1544 1263,1539 1273,1551 1277,1569 1268,1582 1273,1593 1252,1607 1252,1624 1235,1628 1231,1614 1214,1600 1221,1582 1217,1565 1224,1551 1235,1546 1231,1534"/>
<polyline class="g" points="1318,1405 1329,1412 1346,1398 1357,1405 1392,1391 1399,1398 1425,1391 1425,1415 1437,1436 1402,1464 1388,1481 1374,1471 1364,1467 1360,1485 1350,1481 1336,1447 1318,1405"/>
<polyline class="g" points="1594,1342 1597,1321 1604,1307 1650,1297 1667,1338 1664,1387 1615,1412 1608,1387 1618,1370 1594,1342"/>
<polyline class="g" points="1664,1387 1702,1405 1740,1412"/>
<polyline class="g" points="1615,1412 1615,1464 1625,1481"/>
<polyline class="g" points="1524,1464 1542,1460 1569,1440 1587,1450 1604,1467 1615,1464"/>
<polyline class="g" points="1684,1450 1688,1499 1702,1509 1730,1516 1758,1485 1737,1447"/>
<polyline class="g" points="1667,1569 1695,1565 1730,1596 1723,1617 1698,1642 1674,1635 1660,1610 1643,1610 1636,1670 1643,1694 1664,1698 1712,1659 1698,1642"/>
<polyline class="g" points="1730,1596 1747,1607 1765,1624 1803,1617"/>
<polyline class="g" points="1465,1513 1479,1530 1493,1537 1503,1520 1514,1523 1548,1502"/>
<polyline class="g" points="1200,1370 1214,1373 1231,1380 1259,1387 1273,1359"/>
<polyline class="g" points="1200,1433 1221,1436 1224,1429 1245,1426 1259,1401 1273,1394 1301,1387"/>
<polyline class="wl" points="1376,1138 1382,1133 1394,1135 1404,1144 1411,1156 1427,1170 1437,1184 1448,1201 1448,1212"/>
<polyline class="wl" points="1376,1138 1383,1161 1378,1184 1359,1191"/>
<polyline class="g" points="1448,1152 1462,1135 1474,1130 1484,1140 1497,1158 1467,1166 1453,1163 1448,1152"/>
<polyline class="g" points="1406,1250 1436,1241 1450,1246 1457,1245 1462,1257 1458,1267 1472,1292 1446,1292 1425,1267"/>
<polyline class="g" points="1504,1232 1512,1213 1525,1225 1535,1222 1533,1239 1500,1253 1502,1267 1533,1266 1544,1274 1554,1285 1540,1264"/>
<polyline class="g" points="1772,1202 1795,1188 1814,1176 1828,1160 1823,1150 1805,1139 1802,1146 1793,1148 1788,1153 1770,1132 1769,1125"/>
<polyline class="g" points="1732,1119 1755,1103 1769,1125"/>
<polyline class="g" points="1788,1153 1782,1167 1763,1159 1732,1122"/>
<polyline class="g" points="1763,1159 1744,1185 1756,1202 1772,1202"/>
<polyline class="g" points="1828,1160 1837,1157 1847,1166 1850,1171 1866,1180 1899,1178 1908,1172 1922,1180 1943,1185 1955,1193 1965,1199 1990,1190"/>
<polyline class="g" points="1866,1180 1868,1200 1863,1220 1847,1235 1852,1251 1885,1256"/>
<polyline class="g" points="1805,1202 1807,1209 1824,1221 1843,1234 1840,1216 1838,1206 1854,1202 1859,1183"/>
<polyline class="g" points="1965,1199 1969,1218 1964,1239 1946,1249 1936,1261 1922,1272"/>
<polyline class="g" points="1964,1239 1969,1254 1992,1267 2016,1272"/>
<polyline class="g" points="1859,1091 1880,1059 1894,1051 1910,1061 1915,1070 1927,1085 1891,1124 1859,1098 1859,1091"/>
<polyline class="g" points="1927,1085 1969,1108"/>
<polyline class="g" points="1917,1000 1929,1028 1925,1044 1894,1051"/>
<polyline class="g" points="1976,1000 1978,1017 1990,1028 1981,1042 1976,1058 1988,1089 1969,1108"/>
<polyline class="wl" points="1842,1000 1864,1019 1875,1010 1894,1007 1901,1010 1884,1035"/>
<polyline class="wl" points="1969,1108 1990,1129 1999,1153"/>
<polyline class="wl" points="1744,1185 1756,1202 1772,1202"/>
<polyline class="g" points="1850,1251 1871,1241 1895,1262 1927,1251 1948,1244 1962,1237 1969,1206"/>
<polyline class="g" points="1895,1262 1885,1286 1909,1297 1955,1311 1958,1321 1944,1356 1937,1363 1895,1345 1850,1352"/>
<polyline class="g" points="1850,1293 1871,1300 1885,1286"/>
<polyline class="g" points="1944,1356 1989,1370 2003,1352 2031,1345 2040,1345"/>
<polyline class="g" points="1989,1370 1996,1401 2010,1415 2038,1433"/>
<polyline class="g" points="1850,1387 1885,1380 1920,1391 1930,1415 1913,1447 1871,1429 1864,1464"/>
<polyline class="g" points="1962,1237 1989,1251 2017,1269"/>
<polyline class="g" points="2213,1419 2216,1373 2206,1370 2216,1338 2216,1318 2226,1297 2251,1293"/>
<polyline class="g" points="2251,1293 2268,1318 2286,1321 2296,1314 2307,1328"/>
<polyline class="g" points="2254,1265 2275,1244 2321,1241 2369,1269"/>
<polyline class="g" points="2314,1401 2317,1426 2355,1440 2359,1457 2387,1450 2404,1401 2411,1394"/>
<polyline class="g" points="2359,1457 2387,1460 2394,1474 2457,1478 2464,1464 2512,1447"/>
<polyline class="g" points="2457,1478 2470,1513 2477,1523 2526,1516 2533,1492 2519,1450"/>
<polyline class="g" points="2226,1494 2226,1447 2213,1436"/>
<polyline class="g" points="2247,1488 2286,1450 2293,1467 2300,1447 2317,1426"/>
<polyline class="g" points="2470,1513 2436,1523 2415,1527 2439,1555 2439,1593"/>
<polyline class="g" points="2477,1523 2498,1525 2526,1516"/>
<polyline class="g" points="2450,1265 2464,1258 2491,1251 2498,1276 2495,1297 2477,1328 2491,1338 2491,1359 2498,1391 2519,1387 2516,1370 2540,1356 2582,1352 2624,1366 2627,1377"/>
<polyline class="g" points="2101,1401 2115,1391 2139,1401 2146,1419 2129,1443 2150,1457 2171,1471"/>
<polyline class="g" points="2101,1401 2104,1429 2097,1460 2104,1481"/>
<polyline class="g" points="1958,1492 1969,1481 1996,1502 2017,1478"/>
<polyline class="g" points="1958,1492 1965,1509 1989,1520 2003,1548 2000,1565 1989,1582 1993,1610 1986,1621"/>
<polyline class="g" points="1888,1555 1899,1589 1909,1607 1930,1582 1948,1572 1965,1586 1979,1562 2003,1548"/>
<polyline class="g" points="1850,1548 1888,1555 1902,1513 1895,1506"/>
<polyline class="g" points="2003,1565 2031,1555 2059,1558 2087,1572 2094,1562 2087,1541 2091,1520 2080,1494"/>
<polyline class="g" points="2087,1572 2077,1589 2136,1614 2157,1624 2171,1621 2181,1600 2202,1579 2160,1565 2157,1548 2178,1541 2199,1544 2226,1513 2226,1494"/>
<polyline class="g" points="2091,1520 2111,1513 2139,1520 2150,1501"/>
<polyline class="g" points="2314,1555 2317,1530 2331,1528 2342,1544 2314,1558"/>
<polyline class="g" points="2274,1586 2274,1569 2282,1569 2282,1575 2300,1575 2300,1570 2307,1570 2307,1581 2317,1582 2317,1589 2352,1589"/>
<polyline class="g" points="2321,1649 2355,1659 2345,1670 2317,1656"/>
<polyline class="g" points="1955,1635 1951,1659 1969,1687 1996,1694 2014,1691 1986,1656 1965,1635"/>
<polyline class="g" points="2139,1649 2139,1677 2129,1704 2108,1718 2101,1701 2087,1691"/>
<polyline class="g" points="2193,1656 2219,1677 2233,1701 2256,1711"/>
<polyline class="g" points="2091,1694 2087,1722 2080,1743 2091,1778"/>
<polyline class="g" points="2650,1290 2660,1293 2666,1307 2657,1318 2664,1335 2674,1349 2685,1340"/>
<polyline class="wl" points="974,1887 969,1901 967,1922 962,1929 964,1939 953,1953 943,1967 953,1985 952,1999 941,2002 946,2026 953,2026 965,2040 985,2047 1009,2044 1019,2033 1040,2037 1047,2026 1054,2019 1060,2033 1068,2047 1072,2033 1089,2019 1093,2013 1107,2019 1121,2016" clip-path="url(#c1)"/>
<polyline class="wl" points="1081,1845 1075,1856 1079,1870 1087,1882 1103,1880 1128,1873 1142,1884" clip-path="url(#c1)"/>
<polyline class="wl" points="1152,1772 1173,1762 1187,1755 1201,1769 1194,1782 1166,1789 1159,1800 1166,1814 1152,1803 1138,1796" clip-path="url(#c1)"/>
<polyline class="wl" points="1284,2006 1291,2019 1295,2051 1302,2058 1319,2054 1330,2068 1344,2061 1351,2068 1361,2100 1361,2119" clip-path="url(#c1)"/>
<polyline class="wl" points="1257,1732 1264,1758 1281,1772 1277,1800 1295,1814 1295,1838 1274,1852 1281,1863 1288,1859 1312,1828 1323,1821 1326,1803" clip-path="url(#c1)"/>
<polyline class="wl" points="1323,1821 1347,1831 1351,1852 1365,1859 1382,1887 1406,1915" clip-path="url(#c1)"/>
<polyline class="wl" points="1194,1911 1208,1906 1239,1901" clip-path="url(#c1)"/>
<polyline class="g" points="1002,1730 1004,1713 1013,1706 1023,1716 1033,1714 1044,1711 1054,1713 1051,1741 1054,1755 1044,1769 1044,1800 1037,1803 1030,1782 1019,1789 1016,1807 1009,1803 1002,1789 999,1755 1002,1730" clip-path="url(#c1)"/>
<polyline class="g" points="1026,1939 1040,1932 1054,1929 1051,1946 1040,1957 1037,1967 1026,1974 1025,1992 1019,1978 1009,1974 1006,1964 1016,1957 1026,1939" clip-path="url(#c1)"/>
<polyline class="g" points="1100,1957 1110,1950 1117,1943 1121,1953 1131,1957 1121,1971 1117,1985 1107,1981 1096,1985 1093,1974 1100,1957" clip-path="url(#c1)"/>
<polyline class="g" points="1138,1824 1148,1817 1161,1824 1157,1842 1148,1845 1142,1838 1138,1824" clip-path="url(#c1)"/>
<polyline class="g" points="1208,1849 1222,1842 1243,1847 1239,1863 1253,1873 1250,1887 1222,1880 1211,1891 1201,1880 1208,1866 1208,1849" clip-path="url(#c1)"/>
<polyline class="g" points="1277,1873 1284,1864 1297,1873 1302,1894 1309,1915 1295,1922 1284,1911 1274,1915 1270,1901 1281,1894 1277,1873" clip-path="url(#c1)"/>
<polyline class="g" points="1215,2072 1229,2067 1257,2068 1257,2089 1264,2114 1243,2119 1225,2112 1222,2089 1215,2072" clip-path="url(#c1)"/>
<polyline class="g" points="1323,1782 1333,1769 1347,1748 1361,1755 1365,1782 1368,1810 1354,1821 1340,1817 1326,1803 1323,1782" clip-path="url(#c1)"/>
<polyline class="g" points="1384,1958 1393,1957 1403,1971 1438,1964 1442,1978 1470,1981 1484,1971 1496,1985 1484,2009 1473,1999 1445,1999 1442,2013 1456,2016 1458,2028 1442,2030 1421,2028 1400,2032 1393,2025 1390,1999 1391,1978 1384,1958" clip-path="url(#c2)"/>
<polyline class="g" points="1505,1845 1553,1845 1581,1859 1588,1873 1590,1887 1616,1885 1616,1894 1585,1899 1581,1906 1525,1917 1524,1894 1505,1897 1487,1904 1498,1873 1505,1845" clip-path="url(#c3)"/>
<polyline class="g" points="1658,1922 1675,1901 1717,1891 1731,1911 1745,1939 1707,1953 1693,1943 1665,1939 1658,1922" clip-path="url(#c3)"/>
<polyline class="g" points="1658,1789 1675,1786 1682,1796 1679,1814 1679,1824 1668,1835 1670,1870 1696,1859 1700,1838 1714,1828 1749,1814" clip-path="url(#c3)"/>
<polyline class="g" points="1766,1849 1804,1835 1818,1859 1825,1884" clip-path="url(#c3)"/>
<polyline class="g" points="1916,1838 1923,1828 1926,1838 1951,1845 1979,1838 1975,1863 1972,1884" clip-path="url(#c3)"/>
<polyline class="g" points="1933,1859 1947,1894" clip-path="url(#c3)"/>
<polyline class="g" points="1707,1758 1731,1734 1766,1755 1769,1769 1790,1758 1808,1765 1818,1748 1825,1730 1804,1702 1769,1664" clip-path="url(#c3)"/>
<polyline class="g" points="1825,1730 1850,1737 1864,1713 1881,1723 1888,1770" clip-path="url(#c3)"/>
<polyline class="g" points="2338,1758 2349,1748 2359,1734 2373,1737 2373,1758 2394,1762 2408,1751 2420,1749 2425,1762 2415,1772 2429,1789 2425,1805 2413,1819 2394,1805 2356,1812 2345,1814 2335,1803 2338,1758" clip-path="url(#c4)"/>
<polyline class="g" points="2195,1657 2220,1678 2237,1695 2258,1709" clip-path="url(#c4)"/>
<polyline class="g" points="2269,1660 2300,1653 2317,1650" clip-path="url(#c4)"/>
<polyline class="g" points="1727,1677 1739,1694 1771,1666 1773,1663"/>
<polyline class="g" points="1685,1737 1708,1757 1732,1731 1757,1753 1764,1755 1769,1769 1792,1750 1809,1760 1827,1729 1828,1713 1847,1703 1841,1692 1809,1659"/>
<polyline class="g" points="1828,1713 1851,1728 1863,1711 1875,1722 1881,1722 1882,1739 1877,1765"/>
<polyline class="g" points="1903,1652 1875,1633 1863,1651"/>
<polyline class="g" points="1915,1670 1907,1705 1912,1715 1900,1732 1921,1748"/>
<polyline class="g" points="1708,1757 1692,1776 1682,1792 1677,1802 1658,1788 1670,1785 1677,1802 1680,1825 1668,1835 1671,1875 1701,1861 1703,1839 1745,1809"/>
<polyline class="g" points="1766,1851 1806,1835 1820,1861 1825,1883"/>
<polyline class="wl" points="1752,1647 1739,1635 1764,1617 1800,1616"/>
<polyline class="wl" points="1685,1737 1666,1745 1647,1760 1635,1736 1616,1736 1623,1712 1642,1708 1642,1694"/>
<polyline class="wl" points="1647,1760 1644,1785 1630,1797 1614,1762 1600,1767"/>
<polyline class="wl" points="792,1754 803,1754 803,1741 829,1741 847,1746 858,1741 866,1742 866,1757 881,1773 894,1770 894,1780 902,1780 902,1793 894,1795 894,1846 900,1861 910,1877 918,1875 928,1890 926,1911 934,1919 952,1918 965,1932"/>
<polyline class="wl" points="743,1895 774,1890 769,1861 770,1799 761,1780 743,1791 743,1767 766,1765 792,1770 792,1754 800,1741 806,1723 821,1715 842,1705 847,1699 900,1684 908,1668"/>
<polyline class="wl" points="1026,1603 1036,1602 1039,1620 1047,1624 1058,1626 1062,1643 1062,1662"/>
<polyline class="wl" points="1129,1662 1129,1636 1134,1638 1142,1636 1146,1626 1164,1630 1171,1621 1177,1625 1189,1612 1184,1602 1189,1599 1181,1578 1170,1575 1160,1577 1158,1572 1162,1565 1171,1561 1172,1549 1177,1544 1171,1544 1166,1527 1176,1518 1189,1517 1189,1501 1204,1494"/>
<polyline class="wl" points="1533,741 1548,729 1573,725 1601,721 1622,724 1643,732 1655,745 1657,759 1643,778 1639,793 1629,804 1604,809"/>
<polyline class="wl" points="1655,745 1677,739 1695,727 1712,731 1726,745 1744,760 1761,755 1775,745 1789,748 1796,759 1806,748 1817,738 1831,741 1850,732"/>
<polyline class="wl" points="1639,793 1674,790 1677,779 1688,776 1695,786 1712,793 1719,814 1702,821 1684,828 1674,849 1657,863"/>
<polyline class="wl" points="1719,814 1740,811 1765,818 1786,807 1803,814 1817,825 1831,835"/>
<polyline class="wl" points="1751,1030 1768,1023 1782,1034 1799,1020 1810,1020"/>
<polyline class="wl" points="1378,1138 1399,1135"/>
<polyline class="wl" points="686,1065 707,1051 714,1062 707,1086 752,1069 762,1068"/>
<polyline class="wl" points="707,1086 686,1090 661,1086 658,1097 633,1107 619,1125 592,1132"/>
<polyline class="wl" points="1885,779 1888,804 1871,814 1853,828"/>
<polyline class="wl" points="1885,779 1913,765 1930,786 1948,779 1958,759 1989,762 2003,790 2031,779 2045,778"/>
<polyline class="wl" points="1958,759 1955,745 1969,731"/>
<polyline class="wl" points="2270,867 2244,884 2261,901 2286,908 2303,907 2321,922"/>
<polyline class="wl" points="2336,908 2348,919 2352,947 2359,961 2383,971 2404,964 2422,978 2422,1023 2425,1048 2429,1069"/>
<polyline class="wl" points="1885,860 1871,884 1850,891"/>
<polyline class="wl" points="1925,905 1941,919 1937,943 1925,971 1913,964 1892,947"/></g>
<g text-anchor="middle"><text class="n" x="2277" y="467">11</text>
<text class="n" x="2457" y="465">4</text>
<text class="i" x="2303" y="519">Edelény</text>
<text class="b" x="2107" y="552">Ózd</text>
<text class="b" x="2236" y="566">Kazincbarcika</text>
<text class="n" x="2108" y="587">29</text>
<text class="b" x="2293" y="595">Sajószentpéter</text>
<text class="b" x="2444" y="604">Szerencs</text>
<text class="n" x="2518" y="612">16</text>
<text class="b" x="1918" y="646">Salgótarján</text>
<text class="b" x="2287" y="651">Miskolc</text>
<text class="i" x="2692" y="458">Sátoraljaújhely</text>
<text class="i" x="2641" y="513">Sárospatak</text>
<text class="n" x="2717" y="507">94</text>
<text class="b" x="2877" y="524">Kisvárda</text>
<text class="n" x="2876" y="559">33</text>
<text class="n" x="3017" y="580">34</text>
<text class="i" x="2744" y="628">Nagyhalász</text>
<text class="b" x="513" y="895">Sopron</text>
<text class="b" x="798" y="785">Mosonmagyaróvár</text>
<text class="n" x="817" y="820">73</text>
<text class="i" x="747" y="861">Jánossomorja</text>
<text class="b" x="989" y="912">Győr</text>
<text class="n" x="607" y="974">5</text>
<text class="n" x="752" y="987">65</text>
<text class="n" x="969" y="984">64</text>
<text class="n" x="590" y="1103">82</text>
<text class="b" x="476" y="1099">Kőszeg</text>
<text class="b" x="629" y="1182">Sárvár</text>
<text class="n" x="684" y="1199">67</text>
<text class="b" x="772" y="1201">Celldömölk</text>
<text class="b" x="513" y="1206">Szombathely</text>
<text class="b" x="1680" y="680">Balassagyarmat</text>
<text class="n" x="1715" y="737">45</text>
<text class="n" x="1496" y="777">12</text>
<text class="n" x="1611" y="797">20</text>
<text class="n" x="1813" y="804">14</text>
<text class="b" x="1525" y="842">Tahitótfalu</text>
<text class="b" x="1611" y="851">Vác</text>
<text class="b" x="1443" y="870">Esztergom</text>
<text class="b" x="1560" y="879">Visegrád</text>
<text class="b" x="1643" y="894">Sződ</text>
<text class="b" x="1732" y="905">Őrbottyán</text>
<text class="b" x="1177" y="892">Komárom</text>
<text class="n" x="1401" y="918">23</text>
<text class="b" x="1531" y="907">Szentendre</text>
<text class="b" x="1622" y="922">Göd</text>
<text class="b" x="1554" y="935">Pomáz</text>
<text class="n" x="1765" y="941">28</text>
<text class="b" x="1462" y="943">Tinnye</text>
<text class="b" x="1692" y="951">Szada</text>
<text class="i" x="1118" y="952">Bábolna</text>
<text class="i" x="1250" y="954">Tata</text>
<text class="b" x="1459" y="970">Perbál</text>
<text class="b" x="1551" y="971">Solymár</text>
<text class="b" x="1638" y="970">Fót</text>
<text class="b" x="1716" y="978">Gödöllő</text>
<text class="n" x="1132" y="998">8</text>
<text class="b" x="1446" y="998">Tök</text>
<text class="b" x="1495" y="1004">Telki</text>
<text class="b" x="1608" y="999">Mogyoród</text>
<text class="b" x="1305" y="1006">Tatabánya</text>
<text class="b" x="1725" y="1012">Isaszeg</text>
<text class="n" x="1267" y="1040">86</text>
<text class="b" x="1391" y="1037">Bicske</text>
<text class="b" x="1481" y="1032">Páty</text>
<text class="b" x="1568" y="1035">Budakeszi</text>
<text class="b" x="1723" y="1038">Pécel</text>
<text class="i" x="1135" y="1055">Kisbér</text>
<text class="b" x="1494" y="1065">Biatorbágy</text>
<text class="b" x="1683" y="1067">Gyömrő</text>
<text class="i" x="1776" y="1067">Sülysáp</text>
<text class="b" x="1257" y="1072">Oroszlány</text>
<text class="n" x="1409" y="1084">88</text>
<text class="b" x="1481" y="1096">Sóskút</text>
<text class="b" x="1572" y="1093">Budaörs</text>
<text class="b" x="1668" y="1095">Vecsés</text>
<text class="i" x="1198" y="1109">Mór</text>
<text class="b" x="1459" y="1124">Tárnok</text>
<text class="b" x="1521" y="1123">Érd</text>
<text class="b" x="1651" y="1126">Gyál</text>
<text class="b" x="1701" y="1123">Üllő</text>
<text class="n" x="1768" y="1129">71</text>
<text class="i" x="1467" y="1154">Martonvásár</text>
<text class="b" x="1568" y="1162">Tököl</text>
<text class="i" x="1743" y="1159">Monor</text>
<text class="b" x="1668" y="1175">Ócsa</text>
<text class="i" x="1801" y="1173">Pilis</text>
<text class="b" x="1403" y="1181">Százhalombatta</text>
<text class="b" x="1568" y="1191">Alsónémedi</text>
<text class="n" x="1066" y="1193">2</text>
<text class="n" x="1911" y="688">1</text>
<text class="n" x="2063" y="707">27</text>
<text class="b" x="1920" y="729">Bátonyterenye</text>
<text class="n" x="2282" y="689">13</text>
<text class="n" x="2603" y="707">78</text>
<text class="b" x="2160" y="758">Eger</text>
<text class="n" x="2136" y="794">24</text>
<text class="b" x="2442" y="761">Tiszaújváros</text>
<text class="b" x="1975" y="826">Gyöngyös</text>
<text class="b" x="2239" y="841">Mezőkövesd</text>
<text class="n" x="2333" y="859">17</text>
<text class="n" x="1971" y="862">19</text>
<text class="i" x="2159" y="877">Füzesabony</text>
<text class="n" x="2595" y="850">40</text>
<text class="n" x="1869" y="916">89</text>
<text class="b" x="1849" y="947">Hatvan</text>
<text class="n" x="2166" y="950">77</text>
<text class="n" x="2491" y="937">43</text>
<text class="i" x="2110" y="973">Heves</text>
<text class="n" x="2322" y="1055">79</text>
<text class="i" x="1929" y="1051">Jászberény</text>
<text class="n" x="2010" y="1049">46</text>
<text class="i" x="1899" y="1088">Nagykáta</text>
<text class="n" x="1878" y="1122">39</text>
<text class="i" x="2552" y="1119">Kaba</text>
<text class="i" x="2383" y="1154">Karcag</text>
<text class="i" x="2598" y="894">Hajdúböszörmény</text>
<text class="b" x="2599" y="923">Hajdúhadház</text>
<text class="i" x="2593" y="773">Hajdúdorog</text>
<text class="i" x="2577" y="801">Hajdúnánás</text>
<text class="n" x="2863" y="661">53</text>
<text class="i" x="2680" y="689">Nyírtelek</text>
<text class="b" x="2987" y="716">Mátészalka</text>
<text class="n" x="3095" y="717">72</text>
<text class="i" x="2726" y="744">Nyíregyháza</text>
<text class="n" x="2746" y="782">62</text>
<text class="i" x="2820" y="787">Nagykálló</text>
<text class="b" x="2931" y="803">Nyírbátor</text>
<text class="n" x="2918" y="839">61</text>
<text class="i" x="2697" y="832">Újfehértó</text>
<text class="i" x="2787" y="862">Balkány</text>
<text class="i" x="2808" y="906">Nyíradony</text>
<text class="i" x="2756" y="946">Hajdúsámson</text>
<text class="i" x="2682" y="994">Debrecen</text>
<text class="n" x="2768" y="1024">26</text>
<text class="i" x="2858" y="1009">Vámospércs</text>
<text class="n" x="508" y="1280">84</text>
<text class="b" x="498" y="1331">Körmend</text>
<text class="n" x="404" y="1452">63</text>
<text class="n" x="550" y="1454">37</text>
<text class="i" x="646" y="1460">Zalaegerszeg</text>
<text class="n" x="716" y="1430">90</text>
<text class="i" x="811" y="1379">Sümeg</text>
<text class="i" x="872" y="1428">Tapolca</text>
<text class="n" x="870" y="1464">92</text>
<text class="n" x="991" y="1368">25</text>
<text class="n" x="645" y="1520">93</text>
<text class="i" x="775" y="1513">Keszthely</text>
<text class="n" x="843" y="1573">9</text>
<text class="n" x="534" y="1632">91</text>
<text class="n" x="683" y="1674">44</text>
<text class="b" x="664" y="1709">Nagykanizsa</text>
<text class="n" x="773" y="1741">87</text>
<text class="n" x="1003" y="1692">30</text>
<text class="n" x="831" y="1143">35</text>
<text class="i" x="890" y="1149">Pápa</text>
<text class="n" x="945" y="1212">70</text>
<text class="b" x="925" y="1298">Ajka</text>
<text class="b" x="1185" y="1222">Várpalota</text>
<text class="n" x="1394" y="1222">85</text>
<text class="b" x="1586" y="1219">Délegyháza</text>
<text class="b" x="1308" y="1250">Székesfehérvár</text>
<text class="i" x="1501" y="1256">Ráckeve</text>
<text class="n" x="1566" y="1269">48</text>
<text class="i" x="1645" y="1249">Dabas</text>
<text class="n" x="1699" y="1248">32</text>
<text class="i" x="1742" y="1279">Örkény</text>
<text class="b" x="1064" y="1279">Veszprém</text>
<text class="n" x="1132" y="1292">7</text>
<text class="i" x="1443" y="1284">Pusztaszabolcs</text>
<text class="i" x="1256" y="1326">Polgárdi</text>
<text class="n" x="1481" y="1356">59</text>
<text class="i" x="1634" y="1367">Kunszentmiklós</text>
<text class="i" x="1772" y="1339">Lajosmizse</text>
<text class="n" x="1352" y="1384">69</text>
<text class="b" x="1519" y="1395">Dunaújváros</text>
<text class="n" x="1624" y="1409">22</text>
<text class="b" x="1091" y="1385">Balatonfüred</text>
<text class="b" x="1121" y="1419">Siófok</text>
<text class="i" x="1198" y="1416">Enying</text>
<text class="n" x="1254" y="1416">58</text>
<text class="i" x="1381" y="1440">Sárbogárd</text>
<text class="i" x="1660" y="1439">Szabadszállás</text>
<text class="i" x="1570" y="1483">Solt</text>
<text class="i" x="1715" y="1487">Izsák</text>
<text class="i" x="1501" y="1511">Dunaföldvár</text>
<text class="n" x="1113" y="1539">50</text>
<text class="n" x="1292" y="1584">75</text>
<text class="i" x="1234" y="1590">Tamási</text>
<text class="n" x="1454" y="1588">21</text>
<text class="b" x="1505" y="1602">Paks</text>
<text class="i" x="1681" y="1593">Kiskőrös</text>
<text class="n" x="1691" y="1629">83</text>
<text class="i" x="1773" y="1643">Soltvadkert</text>
<text class="b" x="1556" y="1668">Kalocsa</text>
<text class="i" x="1664" y="1669">Kecel</text>
<text class="n" x="1215" y="1698">81</text>
<text class="b" x="1453" y="1735">Tolna</text>
<text class="b" x="1181" y="1740">Dombóvár</text>
<text class="i" x="1766" y="1729">Kiskunhalas</text>
<text class="i" x="1826" y="1203">Albertirsa</text>
<text class="i" x="1914" y="1231">Cegléd</text>
<text class="i" x="2002" y="1239">Abony</text>
<text class="n" x="2077" y="1221">54</text>
<text class="b" x="2009" y="1209">Szolnok</text>
<text class="i" x="2080" y="1266">Törökszentmiklós</text>
<text class="n" x="2195" y="1253">76</text>
<text class="n" x="2316" y="1260">60</text>
<text class="n" x="1917" y="1280">36</text>
<text class="i" x="2316" y="1292">Túrkeve</text>
<text class="i" x="2490" y="1329">Szeghalom</text>
<text class="i" x="1894" y="1344">Nagykőrös</text>
<text class="b" x="2113" y="1364">Tiszaföldvár</text>
<text class="i" x="2261" y="1366">Mezőtúr</text>
<text class="n" x="2494" y="1375">52</text>
<text class="i" x="2017" y="1392">Tiszakécske</text>
<text class="i" x="2354" y="1393">Gyomaendrőd</text>
<text class="n" x="2118" y="1437">80</text>
<text class="n" x="1884" y="1439">41</text>
<text class="i" x="2261" y="1445">Szarvas</text>
<text class="i" x="1801" y="1392">Kerekegyháza</text>
<text class="i" x="1806" y="1420">Kecskemét</text>
<text class="i" x="2452" y="1464">Mezőberény</text>
<text class="n" x="2361" y="1478">51</text>
<text class="i" x="2130" y="1479">Kunszentmárton</text>
<text class="i" x="2498" y="1492">Békés</text>
<text class="i" x="1870" y="1539">Kiskunfélegyháza</text>
<text class="i" x="2022" y="1539">Csongrád</text>
<text class="i" x="2123" y="1547">Szentes</text>
<text class="i" x="2477" y="1553">Békéscsaba</text>
<text class="n" x="2125" y="1583">6</text>
<text class="i" x="2544" y="1592">Gyula</text>
<text class="i" x="2300" y="1608">Orosháza</text>
<text class="n" x="2336" y="1643">38</text>
<text class="n" x="1859" y="1661">49</text>
<text class="i" x="1988" y="1682">Kistelek</text>
<text class="i" x="1871" y="1693">Kiskunmajsa</text>
<text class="n" x="2444" y="1716">47</text>
<text class="n" x="2167" y="1739">3</text>
<text class="i" x="2283" y="1738">Hódmezővásárhely</text>
<text class="i" x="2054" y="1757">Sándorfalva</text>
<text class="i" x="2638" y="1338">Komádi</text>
<text class="n" x="2672" y="1251">10</text>
<text class="n" x="991" y="1805">96</text>
<text class="b" x="820" y="1860">Nagyatád</text>
<text class="n" x="850" y="1915">66</text>
<text class="i" x="1128" y="1840">Sásd</text>
<text class="n" x="1173" y="1854">57</text>
<text class="i" x="1229" y="1872">Komló</text>
<text class="i" x="1293" y="1905">Pécsvárad</text>
<text class="i" x="1344" y="1801">Bonyhád</text>
<text class="i" x="1421" y="1893">Bátaszék</text>
<text class="b" x="1209" y="1946">Pécs</text>
<text class="n" x="1051" y="1961">74</text>
<text class="i" x="980" y="1965">Szigetvár</text>
<text class="i" x="1131" y="1975">Szentlőrinc</text>
<text class="n" x="1218" y="1981">56</text>
<text class="n" x="1336" y="1976">95</text>
<text class="i" x="1419" y="2005">Mohács</text>
<text class="n" x="1170" y="2101">15</text>
<text class="i" x="1239" y="2102">Siklós</text>
<text class="i" x="1025" y="1760">Kaposvár</text>
<text class="i" x="1370" y="1772">Szekszárd</text>
<text class="n" x="1444" y="1779">68</text>
<text class="n" x="1914" y="1798">42</text>
<text class="i" x="1700" y="1815">Jánoshalma</text>
<text class="n" x="2062" y="1827">18</text>
<text class="b" x="2064" y="1856">Szeged</text>
<text class="i" x="1957" y="1869">Mórahalom</text>
<text class="i" x="1791" y="1879">Tompa</text>
<text class="n" x="1626" y="1884">31</text>
<text class="i" x="1556" y="1887">Baja</text>
<text class="i" x="1697" y="1930">Bácsalmás</text>
<text class="n" x="2237" y="1836">55</text>
<text class="i" x="2379" y="1791">Mezőhegyes</text></g>
<rect x="135.5" y="120" width="3252" height="2245.5" fill="none" stroke="#000" stroke-width="4"/>
<text x="158" y="204" font-size="67" textLength="842" lengthAdjust="spacingAndGlyphs">"Potenciális" HACS-ok típusai</text>
<g id="logo">
<defs><filter id="sh" x="-5%" y="-20%" width="110%" height="150%"><feGaussianBlur stdDeviation="3"/></filter></defs>
<g fill="#999" filter="url(#sh)" opacity="0.7" font-family="Liberation Serif,serif" font-size="56"><text x="2909" y="208" textLength="279" lengthAdjust="spacingAndGlyphs">LECHNER</text><text x="3189" y="208" textLength="171" lengthAdjust="spacingAndGlyphs">LAJOS</text></g>
<g font-family="Liberation Serif,serif" font-size="56"><text x="2907.5" y="202" textLength="279" lengthAdjust="spacingAndGlyphs" fill="#000">LECHNER</text><text x="3188" y="202" textLength="171" lengthAdjust="spacingAndGlyphs" fill="#b01010">LAJOS</text></g>
<circle cx="3000" cy="232.5" r="16" fill="#f4b3b3"/>
<circle cx="3040" cy="232.5" r="16" fill="#ef9999"/>
<circle cx="3080" cy="232.5" r="16" fill="#eb8080"/>
<circle cx="3118" cy="232.5" r="16" fill="#e76868"/>
<circle cx="3158" cy="232.5" r="16" fill="#e44c4c"/>
<circle cx="3197" cy="232.5" r="16" fill="#e13636"/>
<circle cx="3238" cy="232.5" r="16" fill="#de1c1c"/>
<circle cx="3278" cy="232.5" r="16" fill="#db0000"/>
<g><text x="0" y="0" font-size="34" font-weight="bold" text-anchor="middle" transform="translate(2993.5 293.5) scale(0.8 1)">T</text><text x="0" y="0" font-size="34" font-weight="bold" text-anchor="middle" transform="translate(3020.5 293.5) scale(0.8 1)">U</text><text x="0" y="0" font-size="34" font-weight="bold" text-anchor="middle" transform="translate(3047.5 293.5) scale(0.8 1)">D</text><text x="0" y="0" font-size="34" font-weight="bold" text-anchor="middle" transform="translate(3074.5 293.5) scale(0.8 1)">Á</text><text x="0" y="0" font-size="34" font-weight="bold" text-anchor="middle" transform="translate(3101.5 293.5) scale(0.8 1)">S</text><text x="0" y="0" font-size="34" font-weight="bold" text-anchor="middle" transform="translate(3128.5 293.5) scale(0.8 1)">K</text><text x="0" y="0" font-size="34" font-weight="bold" text-anchor="middle" transform="translate(3155.5 293.5) scale(0.8 1)">Ö</text><text x="0" y="0" font-size="34" font-weight="bold" text-anchor="middle" transform="translate(3182.5 293.5) scale(0.8 1)">Z</text><text x="0" y="0" font-size="34" font-weight="bold" text-anchor="middle" transform="translate(3209.5 293.5) scale(0.8 1)">P</text><text x="0" y="0" font-size="34" font-weight="bold" text-anchor="middle" transform="translate(3236.5 293.5) scale(0.8 1)">O</text><text x="0" y="0" font-size="34" font-weight="bold" text-anchor="middle" transform="translate(3263.5 293.5) scale(0.8 1)">N</text><text x="0" y="0" font-size="34" font-weight="bold" text-anchor="middle" transform="translate(3290.5 293.5) scale(0.8 1)">T</text></g>
</g>
<g id="legend">
<rect x="763.5" y="2224" width="117.5" height="58.5" fill="#9edaf2" stroke="#808080" stroke-width="2"/>
<rect x="763.5" y="2302.5" width="117.5" height="58.5" fill="#fff" stroke="#808080" stroke-width="2"/>
<text class="lg2" x="792" y="2263" font-style="italic" textLength="80" lengthAdjust="spacingAndGlyphs">Baja</text>
<text class="lg2" x="781" y="2342" textLength="88" lengthAdjust="spacingAndGlyphs">Győr</text>
<text class="lg2" x="902" y="2262.5" textLength="640" lengthAdjust="spacingAndGlyphs">jelenleg csak külterülete HACS tag</text>
<text class="lg2" x="902" y="2344.5" textLength="429" lengthAdjust="spacingAndGlyphs">jelenleg nem HACS tag</text>
<rect x="1552" y="2104" width="94" height="46" fill="#ff0000"/>
<rect x="1552" y="2169.5" width="94" height="45.5" fill="#ff7f7f"/>
<rect x="1552" y="2235" width="94" height="46" fill="#e69800"/>
<rect x="1552" y="2300" width="94" height="46" fill="#ffd37f"/>
<text class="lg" x="1665" y="2138" textLength="756" lengthAdjust="spacingAndGlyphs">nem elmaradott/nagy központi súly/funkciógazdag</text>
<text class="lg" x="1665" y="2203.5" textLength="772" lengthAdjust="spacingAndGlyphs">nem elmaradott/nagy központi súly/funkciószegény</text>
<text class="lg" x="1665" y="2269" textLength="724" lengthAdjust="spacingAndGlyphs">nem elmaradott/kis központi súly/funkciógazdag</text>
<text class="lg" x="1665" y="2334.5" textLength="740" lengthAdjust="spacingAndGlyphs">nem elmaradott/kis központi súly/funkciószegény</text>
<rect x="2486" y="2113" width="94" height="46" fill="#267300"/>
<rect x="2486" y="2178" width="94" height="45.5" fill="#38a800"/>
<rect x="2486" y="2243.5" width="94" height="45" fill="#73b2ff"/>
<rect x="2486" y="2309" width="94" height="45.5" fill="#0070ff"/>
<text class="lg" x="2598.5" y="2147.5" textLength="680.5" lengthAdjust="spacingAndGlyphs">elmaradott/nagy központi súly/funkciógazdag</text>
<text class="lg" x="2598.5" y="2212.5" textLength="696.5" lengthAdjust="spacingAndGlyphs">elmaradott/nagy központi súly/funkciószegény</text>
<text class="lg" x="2598.5" y="2277.5" textLength="648.5" lengthAdjust="spacingAndGlyphs">elmaradott/kis központi súly/funkciógazdag</text>
<text class="lg" x="2598.5" y="2342.5" textLength="664.5" lengthAdjust="spacingAndGlyphs">elmaradott/kis központi súly/funkciószegény</text>
</g>
</svg>
</body></html>
